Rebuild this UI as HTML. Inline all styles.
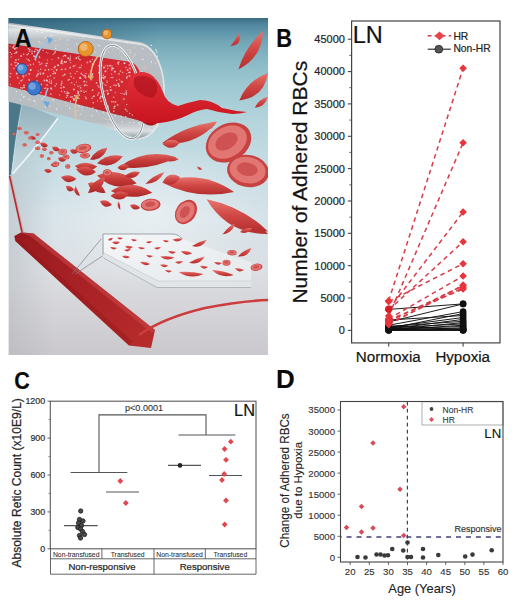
<!DOCTYPE html>
<html><head><meta charset="utf-8"><style>
html,body{margin:0;padding:0;background:#fff;}
body{width:520px;height:602px;overflow:hidden;}
svg{display:block;}
.dp text{stroke-width:0.12px;}
text{font-family:"Liberation Sans", sans-serif;stroke:#2a2a2a;stroke-width:0.22px;}
</style></head><body>
<svg width="520" height="602" viewBox="0 0 520 602">
<rect width="520" height="602" fill="#fff"/>
<defs>
<linearGradient id="bgA" x1="0" y1="0" x2="0" y2="1">
<stop offset="0" stop-color="#3a6c82"/>
<stop offset="0.02" stop-color="#5088a0"/>
<stop offset="0.07" stop-color="#72a6b6"/>
<stop offset="0.13" stop-color="#8abac6"/>
<stop offset="0.2" stop-color="#9ec8d2"/>
<stop offset="0.3" stop-color="#b4d4dc"/>
<stop offset="0.45" stop-color="#c8dde4"/>
<stop offset="0.6" stop-color="#d6e2e8"/>
<stop offset="0.75" stop-color="#dcdfe3"/>
<stop offset="0.88" stop-color="#d4d3d7"/>
<stop offset="1" stop-color="#cac8cc"/>
</linearGradient>
<linearGradient id="leftV" x1="0" y1="0" x2="1" y2="0">
<stop offset="0" stop-color="#a4aab0" stop-opacity="0.35"/>
<stop offset="1" stop-color="#a4aab0" stop-opacity="0"/>
</linearGradient>
<radialGradient id="glowA" cx="0.5" cy="0.5" r="0.5">
<stop offset="0" stop-color="#ffffff" stop-opacity="0.45"/>
<stop offset="1" stop-color="#ffffff" stop-opacity="0"/>
</radialGradient>
<linearGradient id="tubeG" x1="0" y1="0" x2="0" y2="1">
<stop offset="0" stop-color="#96a0a8"/>
<stop offset="0.06" stop-color="#e2e5e8"/>
<stop offset="0.15" stop-color="#b8bec4"/>
<stop offset="0.85" stop-color="#b8bdc2"/>
<stop offset="0.93" stop-color="#dcdfe2"/>
<stop offset="1" stop-color="#88919a"/>
</linearGradient>
<linearGradient id="redT" x1="0" y1="0" x2="0" y2="1">
<stop offset="0" stop-color="#c0202a"/>
<stop offset="0.3" stop-color="#d82a34"/>
<stop offset="0.75" stop-color="#d0282f"/>
<stop offset="1" stop-color="#b0222a"/>
</linearGradient>
<linearGradient id="arrowG" x1="0" y1="0" x2="1" y2="1">
<stop offset="0" stop-color="#981a1e"/>
<stop offset="0.5" stop-color="#aa2226"/>
<stop offset="1" stop-color="#b82c2c"/>
</linearGradient>
<linearGradient id="cellG" x1="0" y1="0" x2="0" y2="1">
<stop offset="0" stop-color="#e6746e"/>
<stop offset="0.45" stop-color="#d24a46"/>
<stop offset="1" stop-color="#b42e2e"/>
</linearGradient>
<linearGradient id="fluidG" x1="0" y1="0" x2="0" y2="1">
<stop offset="0" stop-color="#e4303a"/>
<stop offset="1" stop-color="#c8141f"/>
</linearGradient>
<linearGradient id="plateG" x1="0" y1="0" x2="1" y2="1">
<stop offset="0" stop-color="#f4f6f8"/>
<stop offset="1" stop-color="#e6e9ec"/>
</linearGradient>
<linearGradient id="funG" x1="0" y1="0" x2="0" y2="1">
<stop offset="0" stop-color="#90aebb"/>
<stop offset="0.5" stop-color="#b0c8d0"/>
<stop offset="1" stop-color="#c8d8de"/>
</linearGradient>
<linearGradient id="tealL" x1="0" y1="0" x2="1" y2="0">
<stop offset="0" stop-color="#28586e" stop-opacity="0.6"/>
<stop offset="1" stop-color="#28586e" stop-opacity="0"/>
</linearGradient>
<linearGradient id="cellD" x1="0" y1="0" x2="0" y2="1">
<stop offset="0" stop-color="#dc625e"/>
<stop offset="0.45" stop-color="#c83c3a"/>
<stop offset="1" stop-color="#aa2828"/>
</linearGradient>
<clipPath id="clipA"><rect x="8.5" y="18" width="259.5" height="337"/></clipPath>
</defs><g clip-path="url(#clipA)"><rect x="8" y="18" width="260" height="337" fill="url(#bgA)"/><rect x="9" y="150" width="45" height="205" fill="url(#leftV)"/><ellipse cx="150" cy="215" rx="120" ry="70" fill="url(#glowA)"/><path d="M9,99 L24,104 Q15,140 11.5,174 L9,176 Z" fill="#4a7888"/><path d="M22,103 L58,118 Q36,148 12.5,174 L11.5,173 Q15,140 22,103 Z" fill="url(#funG)"/><path d="M58,118 Q36,148 12.5,174" stroke="#f4f8fa" stroke-width="1.6" fill="none" opacity="0.9"/><path d="M22,103 Q15,140 11.5,174" stroke="#dfeaef" stroke-width="1" fill="none" opacity="0.6"/><path d="M10,176 L22.5,232" stroke="#c8b8b8" stroke-width="3.2"/><path d="M9.6,176 L22,232" stroke="#b42a2e" stroke-width="1.6"/><path d="M8,18 L160,18 L160,46 L8,24 Z" fill="url(#tealL)"/><path d="M8,22.5 L140,42 C157,45 165,72 164,95 C163,118 156,137 138,139 L99,124.5 L8,101.5 Z" fill="url(#tubeG)"/><path d="M8,25 L140,44" stroke="#f2f4f5" stroke-width="1.8" opacity="0.7"/><path d="M8,43.5 L128,61.5 Q139,63.5 141,77 L141,121 L8,86 Z" fill="url(#redT)"/><circle cx="43.3" cy="73.5" r="0.97" fill="#f8e0e4" opacity="0.85"/><circle cx="76.4" cy="82.0" r="0.61" fill="#f0d0b0" opacity="0.85"/><circle cx="127.2" cy="76.4" r="0.68" fill="#eec8d0" opacity="0.85"/><circle cx="110.4" cy="87.1" r="0.79" fill="#f0d0b0" opacity="0.85"/><circle cx="99.5" cy="66.1" r="0.95" fill="#eec8d0" opacity="0.85"/><circle cx="83.2" cy="90.9" r="0.66" fill="#f2b8c0" opacity="0.85"/><circle cx="144.0" cy="68.3" r="0.93" fill="#f2b8c0" opacity="0.85"/><circle cx="47.7" cy="76.6" r="0.89" fill="#e8a0a8" opacity="0.85"/><circle cx="139.0" cy="85.4" r="0.78" fill="#f0d0b0" opacity="0.85"/><circle cx="141.0" cy="110.6" r="0.61" fill="#f2b8c0" opacity="0.85"/><circle cx="79.3" cy="67.6" r="0.91" fill="#e8a0a8" opacity="0.85"/><circle cx="129.7" cy="85.0" r="0.83" fill="#e8a0a8" opacity="0.85"/><circle cx="84.8" cy="75.6" r="0.96" fill="#eec8d0" opacity="0.85"/><circle cx="105.5" cy="104.8" r="1.00" fill="#f8e0e4" opacity="0.85"/><circle cx="104.0" cy="67.5" r="0.99" fill="#f8e0e4" opacity="0.85"/><circle cx="136.7" cy="93.8" r="0.85" fill="#eec8d0" opacity="0.85"/><circle cx="148.3" cy="80.6" r="0.63" fill="#f2b8c0" opacity="0.85"/><circle cx="129.6" cy="113.6" r="0.74" fill="#f2b8c0" opacity="0.85"/><circle cx="19.3" cy="83.2" r="0.72" fill="#f2b8c0" opacity="0.85"/><circle cx="117.6" cy="104.9" r="0.84" fill="#f2b8c0" opacity="0.85"/><circle cx="116.6" cy="80.3" r="0.73" fill="#f0d0b0" opacity="0.85"/><circle cx="133.3" cy="114.0" r="0.69" fill="#f0d0b0" opacity="0.85"/><circle cx="15.0" cy="45.8" r="0.84" fill="#f2b8c0" opacity="0.85"/><circle cx="14.4" cy="53.4" r="0.72" fill="#e8a0a8" opacity="0.85"/><circle cx="46.9" cy="80.6" r="0.73" fill="#f8e0e4" opacity="0.85"/><circle cx="144.2" cy="112.3" r="0.75" fill="#e8a0a8" opacity="0.85"/><circle cx="131.8" cy="83.6" r="0.87" fill="#f0d0b0" opacity="0.85"/><circle cx="24.4" cy="87.6" r="0.71" fill="#f0d0b0" opacity="0.85"/><circle cx="98.8" cy="93.1" r="0.77" fill="#f8e0e4" opacity="0.85"/><circle cx="46.2" cy="63.6" r="0.60" fill="#f8e0e4" opacity="0.85"/><circle cx="68.1" cy="80.2" r="0.75" fill="#f2b8c0" opacity="0.85"/><circle cx="92.5" cy="64.1" r="0.79" fill="#f8e0e4" opacity="0.85"/><circle cx="105.1" cy="76.9" r="0.90" fill="#f8e0e4" opacity="0.85"/><circle cx="13.1" cy="47.6" r="0.99" fill="#f2b8c0" opacity="0.85"/><circle cx="45.2" cy="70.1" r="0.84" fill="#f0d0b0" opacity="0.85"/><circle cx="34.8" cy="56.5" r="0.94" fill="#f8e0e4" opacity="0.85"/><circle cx="47.0" cy="84.9" r="0.91" fill="#f2b8c0" opacity="0.85"/><circle cx="13.8" cy="68.5" r="0.72" fill="#eec8d0" opacity="0.85"/><circle cx="41.2" cy="84.3" r="0.73" fill="#eec8d0" opacity="0.85"/><circle cx="104.9" cy="91.2" r="0.64" fill="#f2b8c0" opacity="0.85"/><circle cx="55.1" cy="66.6" r="0.78" fill="#eec8d0" opacity="0.85"/><circle cx="129.8" cy="72.3" r="0.90" fill="#f8e0e4" opacity="0.85"/><circle cx="40.5" cy="74.0" r="0.69" fill="#f8e0e4" opacity="0.85"/><circle cx="26.9" cy="69.6" r="0.73" fill="#eec8d0" opacity="0.85"/><circle cx="127.1" cy="92.2" r="0.74" fill="#f8e0e4" opacity="0.85"/><circle cx="125.9" cy="67.4" r="0.74" fill="#f0d0b0" opacity="0.85"/><circle cx="28.2" cy="59.8" r="0.79" fill="#f8e0e4" opacity="0.85"/><circle cx="98.8" cy="72.7" r="0.76" fill="#f0d0b0" opacity="0.85"/><circle cx="138.9" cy="73.2" r="0.79" fill="#f2b8c0" opacity="0.85"/><circle cx="126.6" cy="94.4" r="0.77" fill="#f0d0b0" opacity="0.85"/><circle cx="143.0" cy="113.6" r="0.61" fill="#eec8d0" opacity="0.85"/><circle cx="73.9" cy="89.4" r="0.99" fill="#f0d0b0" opacity="0.85"/><circle cx="86.1" cy="98.4" r="0.94" fill="#f2b8c0" opacity="0.85"/><circle cx="145.9" cy="72.6" r="0.62" fill="#eec8d0" opacity="0.85"/><circle cx="136.5" cy="100.2" r="0.96" fill="#eec8d0" opacity="0.85"/><circle cx="136.0" cy="94.1" r="0.79" fill="#f2b8c0" opacity="0.85"/><circle cx="26.9" cy="68.5" r="0.87" fill="#eec8d0" opacity="0.85"/><circle cx="83.5" cy="75.7" r="0.65" fill="#f0d0b0" opacity="0.85"/><circle cx="27.6" cy="88.3" r="0.79" fill="#f0d0b0" opacity="0.85"/><circle cx="119.5" cy="79.6" r="0.65" fill="#eec8d0" opacity="0.85"/><circle cx="134.3" cy="70.5" r="0.92" fill="#eec8d0" opacity="0.85"/><circle cx="139.0" cy="106.4" r="0.80" fill="#f2b8c0" opacity="0.85"/><circle cx="89.9" cy="76.3" r="0.70" fill="#f8e0e4" opacity="0.85"/><circle cx="96.5" cy="83.2" r="0.79" fill="#f2b8c0" opacity="0.85"/><circle cx="118.7" cy="62.1" r="0.91" fill="#f2b8c0" opacity="0.85"/><circle cx="16.5" cy="47.7" r="0.99" fill="#e8a0a8" opacity="0.85"/><circle cx="129.6" cy="68.1" r="0.80" fill="#f0d0b0" opacity="0.85"/><circle cx="32.0" cy="51.2" r="0.86" fill="#e8a0a8" opacity="0.85"/><circle cx="92.1" cy="74.8" r="1.00" fill="#eec8d0" opacity="0.85"/><circle cx="70.0" cy="60.0" r="0.89" fill="#f2b8c0" opacity="0.85"/><circle cx="63.2" cy="56.7" r="0.62" fill="#eec8d0" opacity="0.85"/><circle cx="74.5" cy="84.8" r="0.75" fill="#f0d0b0" opacity="0.85"/><circle cx="122.2" cy="93.5" r="0.62" fill="#e8a0a8" opacity="0.85"/><circle cx="97.8" cy="95.0" r="0.77" fill="#f8e0e4" opacity="0.85"/><circle cx="107.2" cy="82.5" r="0.69" fill="#eec8d0" opacity="0.85"/><circle cx="47.8" cy="76.5" r="0.69" fill="#e8a0a8" opacity="0.85"/><circle cx="28.3" cy="48.8" r="0.75" fill="#f8e0e4" opacity="0.85"/><circle cx="135.7" cy="104.9" r="0.65" fill="#f8e0e4" opacity="0.85"/><circle cx="106.7" cy="105.6" r="0.92" fill="#f0d0b0" opacity="0.85"/><circle cx="103.5" cy="94.9" r="0.81" fill="#f0d0b0" opacity="0.85"/><circle cx="123.6" cy="98.5" r="0.66" fill="#e8a0a8" opacity="0.85"/><circle cx="118.4" cy="64.1" r="0.83" fill="#f2b8c0" opacity="0.85"/><circle cx="102.3" cy="77.5" r="0.74" fill="#f2b8c0" opacity="0.85"/><circle cx="129.3" cy="65.0" r="0.87" fill="#f2b8c0" opacity="0.85"/><circle cx="127.1" cy="111.1" r="0.72" fill="#f0d0b0" opacity="0.85"/><circle cx="22.4" cy="88.1" r="0.80" fill="#f0d0b0" opacity="0.85"/><circle cx="110.1" cy="65.8" r="0.97" fill="#f2b8c0" opacity="0.85"/><circle cx="18.6" cy="59.4" r="0.67" fill="#f0d0b0" opacity="0.85"/><circle cx="20.8" cy="87.8" r="0.78" fill="#eec8d0" opacity="0.85"/><circle cx="108.0" cy="106.1" r="0.75" fill="#f8e0e4" opacity="0.85"/><circle cx="65.5" cy="69.3" r="0.99" fill="#e8a0a8" opacity="0.85"/><circle cx="62.5" cy="63.6" r="0.94" fill="#e8a0a8" opacity="0.85"/><circle cx="145.4" cy="87.7" r="0.90" fill="#f0d0b0" opacity="0.85"/><circle cx="104.3" cy="84.7" r="0.66" fill="#e8a0a8" opacity="0.85"/><circle cx="66.1" cy="93.7" r="0.64" fill="#eec8d0" opacity="0.85"/><circle cx="114.7" cy="106.4" r="0.98" fill="#f0d0b0" opacity="0.85"/><circle cx="92.1" cy="98.3" r="0.71" fill="#eec8d0" opacity="0.85"/><circle cx="37.9" cy="74.2" r="0.97" fill="#f8e0e4" opacity="0.85"/><circle cx="129.2" cy="90.7" r="0.87" fill="#f8e0e4" opacity="0.85"/><circle cx="129.7" cy="93.7" r="0.83" fill="#f0d0b0" opacity="0.85"/><circle cx="47.4" cy="60.1" r="0.71" fill="#f2b8c0" opacity="0.85"/><circle cx="122.6" cy="72.6" r="0.74" fill="#f0d0b0" opacity="0.85"/><circle cx="55.1" cy="86.1" r="0.77" fill="#eec8d0" opacity="0.85"/><circle cx="107.7" cy="94.3" r="0.79" fill="#eec8d0" opacity="0.85"/><circle cx="126.8" cy="104.5" r="0.61" fill="#f0d0b0" opacity="0.85"/><circle cx="149.0" cy="70.6" r="0.91" fill="#e8a0a8" opacity="0.85"/><circle cx="133.5" cy="66.7" r="0.96" fill="#eec8d0" opacity="0.85"/><circle cx="100.8" cy="96.4" r="0.98" fill="#f2b8c0" opacity="0.85"/><circle cx="129.5" cy="75.9" r="0.91" fill="#eec8d0" opacity="0.85"/><circle cx="29.2" cy="73.9" r="0.96" fill="#f2b8c0" opacity="0.85"/><circle cx="45.7" cy="88.0" r="0.67" fill="#f8e0e4" opacity="0.85"/><circle cx="22.7" cy="79.9" r="0.64" fill="#f2b8c0" opacity="0.85"/><circle cx="126.8" cy="77.9" r="0.78" fill="#f8e0e4" opacity="0.85"/><circle cx="112.8" cy="77.5" r="0.73" fill="#f2b8c0" opacity="0.85"/><circle cx="71.1" cy="76.5" r="0.86" fill="#eec8d0" opacity="0.85"/><circle cx="113.9" cy="85.3" r="0.82" fill="#eec8d0" opacity="0.85"/><circle cx="26.7" cy="58.8" r="0.65" fill="#e8a0a8" opacity="0.85"/><circle cx="134.2" cy="110.6" r="0.81" fill="#f2b8c0" opacity="0.85"/><circle cx="108.1" cy="93.3" r="0.90" fill="#f8e0e4" opacity="0.85"/><circle cx="51.4" cy="81.0" r="0.64" fill="#f8e0e4" opacity="0.85"/><circle cx="142.2" cy="83.1" r="0.81" fill="#f0d0b0" opacity="0.85"/><circle cx="25.9" cy="67.9" r="0.62" fill="#f8e0e4" opacity="0.85"/><circle cx="51.2" cy="83.2" r="0.86" fill="#eec8d0" opacity="0.85"/><circle cx="112.2" cy="68.3" r="0.96" fill="#f8e0e4" opacity="0.85"/><circle cx="101.8" cy="65.2" r="0.66" fill="#f0d0b0" opacity="0.85"/><circle cx="56.4" cy="84.0" r="0.77" fill="#f0d0b0" opacity="0.85"/><circle cx="52.1" cy="59.6" r="0.72" fill="#e8a0a8" opacity="0.85"/><circle cx="34.7" cy="51.5" r="0.90" fill="#eec8d0" opacity="0.85"/><circle cx="86.0" cy="91.4" r="0.64" fill="#f8e0e4" opacity="0.85"/><circle cx="47.9" cy="53.0" r="0.62" fill="#eec8d0" opacity="0.85"/><circle cx="80.7" cy="67.4" r="0.74" fill="#f0d0b0" opacity="0.85"/><circle cx="56.6" cy="70.0" r="0.92" fill="#f0d0b0" opacity="0.85"/><circle cx="19.7" cy="66.8" r="0.66" fill="#f2b8c0" opacity="0.85"/><circle cx="92.6" cy="90.1" r="0.91" fill="#f0d0b0" opacity="0.85"/><circle cx="111.8" cy="69.9" r="0.83" fill="#eec8d0" opacity="0.85"/><circle cx="103.8" cy="78.5" r="0.84" fill="#eec8d0" opacity="0.85"/><circle cx="30.5" cy="64.8" r="0.82" fill="#eec8d0" opacity="0.85"/><circle cx="33.8" cy="56.1" r="0.75" fill="#f8e0e4" opacity="0.85"/><circle cx="51.0" cy="88.2" r="0.96" fill="#e8a0a8" opacity="0.85"/><circle cx="142.9" cy="85.6" r="0.96" fill="#f0d0b0" opacity="0.85"/><circle cx="53.3" cy="73.5" r="0.87" fill="#f0d0b0" opacity="0.85"/><circle cx="51.9" cy="89.2" r="0.61" fill="#e8a0a8" opacity="0.85"/><circle cx="36.7" cy="76.0" r="0.91" fill="#f2b8c0" opacity="0.85"/><circle cx="102.7" cy="83.1" r="0.85" fill="#f0d0b0" opacity="0.85"/><circle cx="37.8" cy="82.6" r="0.61" fill="#eec8d0" opacity="0.85"/><circle cx="80.1" cy="85.7" r="0.64" fill="#e8a0a8" opacity="0.85"/><circle cx="49.7" cy="79.8" r="0.65" fill="#eec8d0" opacity="0.85"/><circle cx="120.9" cy="93.3" r="0.61" fill="#f2b8c0" opacity="0.85"/><circle cx="96.6" cy="82.6" r="0.82" fill="#e8a0a8" opacity="0.85"/><circle cx="140.2" cy="82.0" r="0.88" fill="#f8e0e4" opacity="0.85"/><circle cx="28.8" cy="83.8" r="0.91" fill="#f0d0b0" opacity="0.85"/><circle cx="14.8" cy="48.7" r="1.00" fill="#f8e0e4" opacity="0.85"/><circle cx="38.7" cy="52.0" r="0.77" fill="#eec8d0" opacity="0.85"/><circle cx="116.0" cy="85.4" r="0.91" fill="#f2b8c0" opacity="0.85"/><circle cx="67.2" cy="92.0" r="0.76" fill="#eec8d0" opacity="0.85"/><circle cx="76.3" cy="58.4" r="0.68" fill="#e8a0a8" opacity="0.85"/><circle cx="78.5" cy="56.7" r="0.90" fill="#e8a0a8" opacity="0.85"/><circle cx="66.2" cy="61.8" r="0.89" fill="#f2b8c0" opacity="0.85"/><circle cx="61.4" cy="69.5" r="0.74" fill="#f0d0b0" opacity="0.85"/><circle cx="66.3" cy="97.4" r="0.70" fill="#eec8d0" opacity="0.85"/><circle cx="61.7" cy="91.2" r="0.68" fill="#f0d0b0" opacity="0.85"/><circle cx="39.3" cy="56.7" r="0.80" fill="#e8a0a8" opacity="0.85"/><circle cx="99.1" cy="65.5" r="0.67" fill="#f0d0b0" opacity="0.85"/><circle cx="78.6" cy="58.4" r="0.76" fill="#f2b8c0" opacity="0.85"/><circle cx="54.5" cy="53.2" r="0.70" fill="#f2b8c0" opacity="0.85"/><circle cx="15.5" cy="65.8" r="0.70" fill="#eec8d0" opacity="0.85"/><circle cx="64.5" cy="61.9" r="0.85" fill="#f8e0e4" opacity="0.85"/><circle cx="58.5" cy="57.9" r="0.92" fill="#f2b8c0" opacity="0.85"/><circle cx="50.7" cy="94.2" r="0.92" fill="#e8a0a8" opacity="0.85"/><circle cx="144.6" cy="91.3" r="0.71" fill="#f0d0b0" opacity="0.85"/><circle cx="124.1" cy="94.2" r="0.73" fill="#f8e0e4" opacity="0.85"/><circle cx="17.9" cy="63.9" r="0.84" fill="#f2b8c0" opacity="0.85"/><circle cx="10.5" cy="46.0" r="0.61" fill="#f2b8c0" opacity="0.85"/><circle cx="80.4" cy="78.2" r="0.86" fill="#eec8d0" opacity="0.85"/><circle cx="136.0" cy="75.0" r="0.74" fill="#e8a0a8" opacity="0.85"/><circle cx="77.0" cy="71.5" r="0.75" fill="#f2b8c0" opacity="0.85"/><circle cx="115.2" cy="92.5" r="0.64" fill="#e8a0a8" opacity="0.85"/><circle cx="51.1" cy="88.6" r="0.80" fill="#f2b8c0" opacity="0.85"/><circle cx="86.6" cy="82.0" r="0.67" fill="#e8a0a8" opacity="0.85"/><circle cx="113.6" cy="97.2" r="0.74" fill="#f0d0b0" opacity="0.85"/><circle cx="35.7" cy="83.0" r="0.69" fill="#e8a0a8" opacity="0.85"/><circle cx="119.1" cy="85.9" r="0.93" fill="#f8e0e4" opacity="0.85"/><circle cx="81.0" cy="90.9" r="0.98" fill="#e8a0a8" opacity="0.85"/><circle cx="16.0" cy="52.7" r="0.93" fill="#f2b8c0" opacity="0.85"/><circle cx="22.9" cy="75.5" r="0.73" fill="#f2b8c0" opacity="0.85"/><circle cx="94.1" cy="96.1" r="0.95" fill="#f2b8c0" opacity="0.85"/><circle cx="132.1" cy="86.9" r="1.00" fill="#f8e0e4" opacity="0.85"/><circle cx="10.2" cy="52.6" r="0.74" fill="#f2b8c0" opacity="0.85"/><circle cx="53.6" cy="71.5" r="0.70" fill="#eec8d0" opacity="0.85"/><circle cx="16.8" cy="52.0" r="0.83" fill="#eec8d0" opacity="0.85"/><circle cx="11.6" cy="54.3" r="0.69" fill="#eec8d0" opacity="0.85"/><circle cx="88.7" cy="76.9" r="0.73" fill="#f0d0b0" opacity="0.85"/><circle cx="133.6" cy="104.0" r="0.67" fill="#e8a0a8" opacity="0.85"/><circle cx="21.1" cy="80.7" r="0.84" fill="#f2b8c0" opacity="0.85"/><circle cx="130.2" cy="69.0" r="0.63" fill="#f8e0e4" opacity="0.85"/><circle cx="75.1" cy="65.3" r="0.64" fill="#f0d0b0" opacity="0.85"/><circle cx="78.0" cy="86.3" r="0.76" fill="#f8e0e4" opacity="0.85"/><circle cx="102.6" cy="96.9" r="0.93" fill="#f8e0e4" opacity="0.85"/><circle cx="93.2" cy="96.5" r="0.65" fill="#eec8d0" opacity="0.85"/><circle cx="11.1" cy="57.0" r="0.74" fill="#f2b8c0" opacity="0.85"/><circle cx="36.9" cy="81.2" r="0.87" fill="#f0d0b0" opacity="0.85"/><circle cx="61.1" cy="87.9" r="0.84" fill="#f2b8c0" opacity="0.85"/><circle cx="40.0" cy="64.5" r="0.73" fill="#f2b8c0" opacity="0.85"/><circle cx="70.3" cy="58.1" r="0.73" fill="#eec8d0" opacity="0.85"/><circle cx="114.9" cy="71.6" r="0.95" fill="#eec8d0" opacity="0.85"/><circle cx="148.1" cy="98.4" r="0.94" fill="#f0d0b0" opacity="0.85"/><circle cx="61.5" cy="61.4" r="0.98" fill="#f0d0b0" opacity="0.85"/><circle cx="77.8" cy="91.1" r="0.79" fill="#e8a0a8" opacity="0.85"/><circle cx="92.3" cy="59.4" r="0.67" fill="#f2b8c0" opacity="0.85"/><circle cx="23.4" cy="76.9" r="0.80" fill="#f8e0e4" opacity="0.85"/><circle cx="18.6" cy="65.5" r="0.90" fill="#eec8d0" opacity="0.85"/><circle cx="48.6" cy="69.7" r="0.79" fill="#f8e0e4" opacity="0.85"/><circle cx="37.5" cy="82.5" r="0.64" fill="#eec8d0" opacity="0.85"/><circle cx="51.9" cy="69.4" r="0.68" fill="#f2b8c0" opacity="0.85"/><circle cx="78.2" cy="92.9" r="0.99" fill="#f8e0e4" opacity="0.85"/><circle cx="147.2" cy="111.9" r="0.98" fill="#f8e0e4" opacity="0.85"/><circle cx="70.4" cy="97.1" r="0.81" fill="#e8a0a8" opacity="0.85"/><circle cx="85.9" cy="73.6" r="0.71" fill="#f8e0e4" opacity="0.85"/><circle cx="74.8" cy="95.7" r="0.90" fill="#f8e0e4" opacity="0.85"/><circle cx="140.2" cy="92.0" r="0.65" fill="#f2b8c0" opacity="0.85"/><circle cx="84.3" cy="81.5" r="0.98" fill="#eec8d0" opacity="0.85"/><circle cx="10.3" cy="84.6" r="0.74" fill="#e8a0a8" opacity="0.85"/><circle cx="145.2" cy="85.0" r="0.61" fill="#f0d0b0" opacity="0.85"/><circle cx="35.9" cy="49.4" r="0.96" fill="#e8a0a8" opacity="0.85"/><circle cx="127.0" cy="93.6" r="0.78" fill="#f2b8c0" opacity="0.85"/><circle cx="46.6" cy="79.8" r="0.77" fill="#e8a0a8" opacity="0.85"/><circle cx="46.4" cy="52.4" r="0.61" fill="#e8a0a8" opacity="0.85"/><circle cx="149.4" cy="75.5" r="0.70" fill="#f0d0b0" opacity="0.85"/><circle cx="29.0" cy="79.6" r="0.80" fill="#e8a0a8" opacity="0.85"/><circle cx="126.3" cy="90.9" r="0.61" fill="#f8e0e4" opacity="0.85"/><circle cx="16.4" cy="65.6" r="0.96" fill="#f2b8c0" opacity="0.85"/><circle cx="136.9" cy="88.7" r="0.81" fill="#f0d0b0" opacity="0.85"/><circle cx="61.9" cy="81.3" r="0.67" fill="#f8e0e4" opacity="0.85"/><circle cx="105.7" cy="107.9" r="0.64" fill="#f0d0b0" opacity="0.85"/><circle cx="118.4" cy="83.9" r="0.92" fill="#f8e0e4" opacity="0.85"/><circle cx="73.4" cy="98.7" r="0.83" fill="#eec8d0" opacity="0.85"/><circle cx="29.6" cy="49.4" r="0.94" fill="#e8a0a8" opacity="0.85"/><circle cx="125.9" cy="109.7" r="0.71" fill="#f0d0b0" opacity="0.85"/><circle cx="54.3" cy="78.1" r="0.80" fill="#f2b8c0" opacity="0.85"/><circle cx="49.2" cy="82.0" r="0.64" fill="#f8e0e4" opacity="0.85"/><circle cx="103.6" cy="77.5" r="0.79" fill="#f0d0b0" opacity="0.85"/><circle cx="115.4" cy="102.1" r="0.68" fill="#e8a0a8" opacity="0.85"/><circle cx="138.9" cy="74.5" r="0.98" fill="#e8a0a8" opacity="0.85"/><circle cx="65.5" cy="55.7" r="0.98" fill="#eec8d0" opacity="0.85"/><circle cx="142.1" cy="82.0" r="0.82" fill="#e8a0a8" opacity="0.85"/><circle cx="15.0" cy="62.6" r="0.99" fill="#e8a0a8" opacity="0.85"/><circle cx="21.1" cy="56.0" r="0.89" fill="#eec8d0" opacity="0.85"/><circle cx="107.7" cy="65.8" r="0.85" fill="#f2b8c0" opacity="0.85"/><circle cx="124.5" cy="63.2" r="0.99" fill="#f8e0e4" opacity="0.85"/><circle cx="106.9" cy="81.0" r="0.78" fill="#e8a0a8" opacity="0.85"/><circle cx="50.5" cy="75.7" r="0.69" fill="#eec8d0" opacity="0.85"/><circle cx="144.1" cy="73.5" r="0.88" fill="#eec8d0" opacity="0.85"/><circle cx="75.4" cy="73.4" r="0.66" fill="#f2b8c0" opacity="0.85"/><circle cx="17.6" cy="77.2" r="0.72" fill="#eec8d0" opacity="0.85"/><circle cx="100.8" cy="65.4" r="0.62" fill="#eec8d0" opacity="0.85"/><circle cx="144.5" cy="93.7" r="0.91" fill="#e8a0a8" opacity="0.85"/><circle cx="70.7" cy="62.6" r="0.71" fill="#f2b8c0" opacity="0.85"/><circle cx="28.4" cy="53.7" r="0.75" fill="#eec8d0" opacity="0.85"/><circle cx="141.3" cy="96.6" r="0.60" fill="#eec8d0" opacity="0.85"/><circle cx="61.9" cy="59.3" r="0.70" fill="#e8a0a8" opacity="0.85"/><circle cx="59.6" cy="95.0" r="0.64" fill="#e8a0a8" opacity="0.85"/><circle cx="128.6" cy="87.3" r="0.81" fill="#f8e0e4" opacity="0.85"/><circle cx="129.6" cy="86.0" r="0.79" fill="#e8a0a8" opacity="0.85"/><circle cx="85.3" cy="77.3" r="0.78" fill="#f0d0b0" opacity="0.85"/><circle cx="63.7" cy="87.3" r="0.97" fill="#f8e0e4" opacity="0.85"/><circle cx="128.8" cy="72.6" r="0.73" fill="#eec8d0" opacity="0.85"/><circle cx="127.6" cy="70.0" r="0.99" fill="#f0d0b0" opacity="0.85"/><circle cx="67.3" cy="93.3" r="0.83" fill="#f2b8c0" opacity="0.85"/><circle cx="32.1" cy="53.4" r="1.00" fill="#e8a0a8" opacity="0.85"/><circle cx="106.0" cy="85.4" r="0.64" fill="#f8e0e4" opacity="0.85"/><circle cx="85.7" cy="77.4" r="0.84" fill="#eec8d0" opacity="0.85"/><circle cx="40.6" cy="69.2" r="0.75" fill="#f0d0b0" opacity="0.85"/><circle cx="54.5" cy="67.6" r="0.91" fill="#f0d0b0" opacity="0.85"/><circle cx="111.2" cy="77.6" r="0.71" fill="#f8e0e4" opacity="0.85"/><circle cx="146.7" cy="80.4" r="0.84" fill="#f2b8c0" opacity="0.85"/><circle cx="41.0" cy="92.5" r="0.71" fill="#eec8d0" opacity="0.85"/><circle cx="145.4" cy="89.6" r="0.73" fill="#e8a0a8" opacity="0.85"/><circle cx="120.4" cy="71.0" r="0.81" fill="#f0d0b0" opacity="0.85"/><circle cx="71.8" cy="82.7" r="0.77" fill="#f2b8c0" opacity="0.85"/><circle cx="87.0" cy="85.6" r="0.62" fill="#f8e0e4" opacity="0.85"/><circle cx="129.6" cy="83.1" r="0.75" fill="#f2b8c0" opacity="0.85"/><circle cx="40.1" cy="73.1" r="0.77" fill="#f2b8c0" opacity="0.85"/><circle cx="131.4" cy="100.0" r="0.60" fill="#f8e0e4" opacity="0.85"/><circle cx="62.1" cy="69.6" r="0.75" fill="#e8a0a8" opacity="0.85"/><circle cx="101.2" cy="101.2" r="0.80" fill="#f0d0b0" opacity="0.85"/><circle cx="55.3" cy="51.9" r="0.85" fill="#f2b8c0" opacity="0.85"/><circle cx="29.5" cy="51.2" r="0.77" fill="#f8e0e4" opacity="0.85"/><circle cx="37.6" cy="50.3" r="0.81" fill="#f8e0e4" opacity="0.85"/><circle cx="113.2" cy="101.7" r="0.78" fill="#eec8d0" opacity="0.85"/><circle cx="105.5" cy="65.7" r="0.69" fill="#e8a0a8" opacity="0.85"/><circle cx="29.4" cy="60.7" r="0.68" fill="#f0d0b0" opacity="0.85"/><circle cx="125.3" cy="93.0" r="0.77" fill="#f2b8c0" opacity="0.85"/><circle cx="121.4" cy="81.5" r="0.93" fill="#e8a0a8" opacity="0.85"/><circle cx="35.7" cy="60.5" r="0.68" fill="#e8a0a8" opacity="0.85"/><circle cx="99.0" cy="86.9" r="0.77" fill="#f8e0e4" opacity="0.85"/><circle cx="23.6" cy="87.6" r="0.63" fill="#f2b8c0" opacity="0.85"/><circle cx="132.8" cy="102.0" r="0.63" fill="#f8e0e4" opacity="0.85"/><circle cx="11.3" cy="64.4" r="0.85" fill="#e8a0a8" opacity="0.85"/><circle cx="23.2" cy="74.3" r="0.95" fill="#e8a0a8" opacity="0.85"/><circle cx="41.6" cy="63.6" r="0.98" fill="#e8a0a8" opacity="0.85"/><circle cx="17.3" cy="67.1" r="0.81" fill="#f0d0b0" opacity="0.85"/><circle cx="90.3" cy="61.5" r="0.93" fill="#eec8d0" opacity="0.85"/><circle cx="125.4" cy="109.0" r="0.71" fill="#e8a0a8" opacity="0.85"/><circle cx="147.5" cy="100.9" r="0.69" fill="#f0d0b0" opacity="0.85"/><circle cx="90.2" cy="73.6" r="0.65" fill="#f0d0b0" opacity="0.85"/><circle cx="84.4" cy="85.5" r="0.73" fill="#f8e0e4" opacity="0.85"/><circle cx="130.4" cy="93.3" r="0.68" fill="#f0d0b0" opacity="0.85"/><circle cx="18.4" cy="63.9" r="0.85" fill="#f8e0e4" opacity="0.85"/><circle cx="79.1" cy="95.1" r="0.93" fill="#eec8d0" opacity="0.85"/><circle cx="141.3" cy="71.7" r="0.76" fill="#f0d0b0" opacity="0.85"/><circle cx="39.7" cy="57.4" r="0.73" fill="#f2b8c0" opacity="0.85"/><circle cx="44.6" cy="88.4" r="0.69" fill="#f2b8c0" opacity="0.85"/><circle cx="61.4" cy="62.9" r="0.70" fill="#f8e0e4" opacity="0.85"/><circle cx="46.9" cy="80.8" r="0.89" fill="#f8e0e4" opacity="0.85"/><circle cx="39.1" cy="62.3" r="0.83" fill="#eec8d0" opacity="0.85"/><circle cx="44.4" cy="80.5" r="0.92" fill="#eec8d0" opacity="0.85"/><circle cx="61.1" cy="63.2" r="0.76" fill="#f0d0b0" opacity="0.85"/><circle cx="85.5" cy="84.7" r="0.78" fill="#f8e0e4" opacity="0.85"/><circle cx="17.8" cy="78.3" r="0.80" fill="#e8a0a8" opacity="0.85"/><circle cx="91.1" cy="70.3" r="0.87" fill="#e8a0a8" opacity="0.85"/><circle cx="41.1" cy="84.9" r="0.74" fill="#e8a0a8" opacity="0.85"/><circle cx="149.4" cy="92.0" r="0.65" fill="#eec8d0" opacity="0.85"/><circle cx="68.7" cy="93.2" r="0.83" fill="#eec8d0" opacity="0.85"/><circle cx="25.1" cy="69.1" r="0.79" fill="#f8e0e4" opacity="0.85"/><circle cx="85.5" cy="97.1" r="0.75" fill="#e8a0a8" opacity="0.85"/><circle cx="15.9" cy="59.9" r="0.85" fill="#eec8d0" opacity="0.85"/><circle cx="108.3" cy="107.7" r="0.72" fill="#f0d0b0" opacity="0.85"/><circle cx="134.9" cy="109.5" r="0.73" fill="#f0d0b0" opacity="0.85"/><circle cx="67.4" cy="95.6" r="0.97" fill="#f8e0e4" opacity="0.85"/><circle cx="69.2" cy="79.5" r="0.77" fill="#f8e0e4" opacity="0.85"/><circle cx="61.8" cy="61.1" r="0.88" fill="#f8e0e4" opacity="0.85"/><circle cx="88.8" cy="75.3" r="0.73" fill="#f2b8c0" opacity="0.85"/><circle cx="32.7" cy="87.1" r="0.67" fill="#e8a0a8" opacity="0.85"/><circle cx="65.2" cy="62.3" r="0.82" fill="#e8a0a8" opacity="0.85"/><circle cx="61.2" cy="85.2" r="0.79" fill="#f0d0b0" opacity="0.85"/><circle cx="38.2" cy="70.8" r="0.65" fill="#eec8d0" opacity="0.85"/><circle cx="87.3" cy="62.5" r="0.95" fill="#e8a0a8" opacity="0.85"/><circle cx="82.2" cy="74.6" r="0.79" fill="#f2b8c0" opacity="0.85"/><circle cx="105.8" cy="71.1" r="0.65" fill="#f8e0e4" opacity="0.85"/><circle cx="142.7" cy="90.3" r="0.66" fill="#e8a0a8" opacity="0.85"/><circle cx="61.7" cy="83.4" r="0.83" fill="#f8e0e4" opacity="0.85"/><circle cx="81.5" cy="65.3" r="0.70" fill="#eec8d0" opacity="0.85"/><circle cx="46.2" cy="65.6" r="0.96" fill="#f8e0e4" opacity="0.85"/><circle cx="23.8" cy="76.2" r="0.69" fill="#f2b8c0" opacity="0.85"/><circle cx="74.0" cy="99.5" r="0.93" fill="#f8e0e4" opacity="0.85"/><circle cx="29.9" cy="49.6" r="0.71" fill="#e8a0a8" opacity="0.85"/><circle cx="81.2" cy="73.3" r="0.90" fill="#e8a0a8" opacity="0.85"/><circle cx="80.6" cy="87.8" r="0.99" fill="#e8a0a8" opacity="0.85"/><circle cx="70.2" cy="67.7" r="0.83" fill="#f8e0e4" opacity="0.85"/><circle cx="64.3" cy="55.4" r="0.77" fill="#eec8d0" opacity="0.85"/><circle cx="10.2" cy="76.8" r="0.80" fill="#eec8d0" opacity="0.85"/><circle cx="143.4" cy="109.6" r="0.70" fill="#f8e0e4" opacity="0.85"/><circle cx="98.0" cy="85.6" r="0.68" fill="#f8e0e4" opacity="0.85"/><circle cx="32.2" cy="89.8" r="0.79" fill="#f2b8c0" opacity="0.85"/><circle cx="113.4" cy="68.5" r="0.73" fill="#f0d0b0" opacity="0.85"/><circle cx="124.1" cy="99.3" r="0.65" fill="#f8e0e4" opacity="0.85"/><circle cx="97.5" cy="100.8" r="0.64" fill="#eec8d0" opacity="0.85"/><circle cx="107.7" cy="90.8" r="0.76" fill="#f0d0b0" opacity="0.85"/><circle cx="73.8" cy="100.4" r="0.78" fill="#f0d0b0" opacity="0.85"/><circle cx="34.7" cy="83.8" r="0.71" fill="#f2b8c0" opacity="0.85"/><circle cx="107.8" cy="68.6" r="0.73" fill="#f2b8c0" opacity="0.85"/><circle cx="111.7" cy="101.7" r="0.64" fill="#f8e0e4" opacity="0.85"/><circle cx="122.3" cy="81.9" r="0.78" fill="#f0d0b0" opacity="0.85"/><circle cx="103.4" cy="75.3" r="0.78" fill="#eec8d0" opacity="0.85"/><circle cx="43.1" cy="50.2" r="0.69" fill="#eec8d0" opacity="0.85"/><circle cx="68.2" cy="58.3" r="0.99" fill="#f8e0e4" opacity="0.85"/><circle cx="26.1" cy="75.1" r="0.72" fill="#eec8d0" opacity="0.85"/><circle cx="13.5" cy="46.3" r="0.69" fill="#f8e0e4" opacity="0.85"/><circle cx="73.6" cy="78.2" r="0.75" fill="#f0d0b0" opacity="0.85"/><circle cx="135.7" cy="75.4" r="0.77" fill="#f0d0b0" opacity="0.85"/><circle cx="53.2" cy="54.3" r="0.80" fill="#e8a0a8" opacity="0.85"/><circle cx="24.0" cy="85.5" r="0.98" fill="#f0d0b0" opacity="0.85"/><circle cx="30.7" cy="69.9" r="1.00" fill="#f8e0e4" opacity="0.85"/><circle cx="33.5" cy="64.0" r="0.65" fill="#f8e0e4" opacity="0.85"/><circle cx="79.9" cy="78.0" r="0.90" fill="#eec8d0" opacity="0.85"/><circle cx="117.8" cy="62.9" r="0.79" fill="#f2b8c0" opacity="0.85"/><circle cx="10.7" cy="73.6" r="0.96" fill="#e8a0a8" opacity="0.85"/><circle cx="16.7" cy="73.5" r="0.93" fill="#f8e0e4" opacity="0.85"/><circle cx="78.8" cy="91.6" r="0.72" fill="#eec8d0" opacity="0.85"/><circle cx="88.8" cy="76.3" r="0.65" fill="#f2b8c0" opacity="0.85"/><circle cx="105.3" cy="71.4" r="0.90" fill="#eec8d0" opacity="0.85"/><circle cx="84.3" cy="92.4" r="0.66" fill="#f0d0b0" opacity="0.85"/><circle cx="33.0" cy="89.2" r="0.80" fill="#f8e0e4" opacity="0.85"/><circle cx="144.7" cy="66.5" r="0.74" fill="#f2b8c0" opacity="0.85"/><circle cx="80.0" cy="59.8" r="0.82" fill="#f8e0e4" opacity="0.85"/><circle cx="64.7" cy="74.4" r="0.98" fill="#f0d0b0" opacity="0.85"/><circle cx="55.2" cy="73.2" r="0.91" fill="#f8e0e4" opacity="0.85"/><circle cx="114.7" cy="71.5" r="0.86" fill="#f2b8c0" opacity="0.85"/><circle cx="114.1" cy="108.2" r="0.90" fill="#e8a0a8" opacity="0.85"/><circle cx="110.8" cy="90.0" r="1.00" fill="#eec8d0" opacity="0.85"/><circle cx="16.8" cy="62.3" r="0.67" fill="#e8a0a8" opacity="0.85"/><circle cx="23.7" cy="54.3" r="0.78" fill="#f0d0b0" opacity="0.85"/><circle cx="70.4" cy="73.5" r="0.74" fill="#f0d0b0" opacity="0.85"/><circle cx="70.4" cy="56.1" r="0.75" fill="#e8a0a8" opacity="0.85"/><circle cx="111.6" cy="74.2" r="0.66" fill="#eec8d0" opacity="0.85"/><circle cx="133.1" cy="103.1" r="0.86" fill="#f2b8c0" opacity="0.85"/><circle cx="111.9" cy="66.0" r="0.79" fill="#e8a0a8" opacity="0.85"/><circle cx="63.0" cy="75.7" r="0.85" fill="#e8a0a8" opacity="0.85"/><circle cx="76.4" cy="57.9" r="0.89" fill="#f0d0b0" opacity="0.85"/><circle cx="138.1" cy="75.0" r="0.99" fill="#f2b8c0" opacity="0.85"/><circle cx="29.3" cy="80.5" r="0.65" fill="#f2b8c0" opacity="0.85"/><circle cx="93.3" cy="102.8" r="0.82" fill="#f8e0e4" opacity="0.85"/><circle cx="28.0" cy="65.3" r="0.66" fill="#eec8d0" opacity="0.85"/><circle cx="106.7" cy="90.5" r="0.73" fill="#e8a0a8" opacity="0.85"/><circle cx="72.0" cy="96.9" r="0.82" fill="#f8e0e4" opacity="0.85"/><circle cx="92.7" cy="74.1" r="0.75" fill="#f0d0b0" opacity="0.85"/><circle cx="146.6" cy="81.0" r="0.68" fill="#f2b8c0" opacity="0.85"/><circle cx="64.5" cy="91.8" r="0.69" fill="#f8e0e4" opacity="0.85"/><circle cx="136.2" cy="81.7" r="0.91" fill="#f8e0e4" opacity="0.85"/><circle cx="126.6" cy="73.7" r="0.60" fill="#e8a0a8" opacity="0.85"/><circle cx="100.2" cy="98.2" r="0.97" fill="#eec8d0" opacity="0.85"/><circle cx="115.4" cy="101.8" r="0.92" fill="#f2b8c0" opacity="0.85"/><circle cx="58.1" cy="65.3" r="0.99" fill="#f8e0e4" opacity="0.85"/><circle cx="136.7" cy="111.4" r="0.91" fill="#f0d0b0" opacity="0.85"/><circle cx="73.6" cy="66.3" r="0.96" fill="#f0d0b0" opacity="0.85"/><circle cx="47.2" cy="63.2" r="0.68" fill="#f0d0b0" opacity="0.85"/><circle cx="139.2" cy="81.2" r="0.64" fill="#f2b8c0" opacity="0.85"/><circle cx="135.8" cy="85.0" r="0.92" fill="#f8e0e4" opacity="0.85"/><circle cx="119.0" cy="73.8" r="0.84" fill="#f2b8c0" opacity="0.85"/><circle cx="27.1" cy="54.7" r="0.74" fill="#f8e0e4" opacity="0.85"/><circle cx="37.1" cy="31.5" r="0.7" fill="#ffffff" opacity="0.8"/><circle cx="101.9" cy="54.4" r="0.7" fill="#ffffff" opacity="0.8"/><circle cx="15.0" cy="38.5" r="0.7" fill="#edd8b4" opacity="0.8"/><circle cx="83.4" cy="38.5" r="0.7" fill="#f2cfa8" opacity="0.8"/><circle cx="53.2" cy="99.4" r="0.7" fill="#f2cfa8" opacity="0.8"/><circle cx="67.5" cy="40.0" r="0.7" fill="#f6efe6" opacity="0.8"/><circle cx="150.2" cy="55.1" r="0.7" fill="#f2cfa8" opacity="0.8"/><circle cx="13.5" cy="31.6" r="0.7" fill="#edd8b4" opacity="0.8"/><circle cx="157.2" cy="62.1" r="0.7" fill="#edd8b4" opacity="0.8"/><circle cx="121.1" cy="116.1" r="0.7" fill="#ffffff" opacity="0.8"/><circle cx="92.0" cy="115.9" r="0.7" fill="#f6efe6" opacity="0.8"/><circle cx="157.0" cy="52.3" r="0.7" fill="#f6efe6" opacity="0.8"/><circle cx="106.8" cy="113.3" r="0.7" fill="#f2cfa8" opacity="0.8"/><circle cx="129.8" cy="122.3" r="0.7" fill="#f6efe6" opacity="0.8"/><circle cx="28.1" cy="99.6" r="0.7" fill="#edd8b4" opacity="0.8"/><circle cx="134.9" cy="54.8" r="0.7" fill="#f6efe6" opacity="0.8"/><circle cx="130.3" cy="49.9" r="0.7" fill="#f6efe6" opacity="0.8"/><circle cx="87.6" cy="107.4" r="0.7" fill="#f2cfa8" opacity="0.8"/><circle cx="122.1" cy="121.6" r="0.7" fill="#f6efe6" opacity="0.8"/><circle cx="139.3" cy="124.0" r="0.7" fill="#f6efe6" opacity="0.8"/><circle cx="44.1" cy="96.5" r="0.7" fill="#ffffff" opacity="0.8"/><circle cx="77.9" cy="110.7" r="0.7" fill="#edd8b4" opacity="0.8"/><circle cx="103.7" cy="112.1" r="0.7" fill="#ffffff" opacity="0.8"/><circle cx="23.5" cy="97.1" r="0.7" fill="#ffffff" opacity="0.8"/><circle cx="76.8" cy="44.0" r="0.7" fill="#ffffff" opacity="0.8"/><circle cx="55.2" cy="45.1" r="0.7" fill="#edd8b4" opacity="0.8"/><circle cx="55.8" cy="48.3" r="0.7" fill="#ffffff" opacity="0.8"/><circle cx="99.9" cy="55.4" r="0.7" fill="#f2cfa8" opacity="0.8"/><circle cx="133.5" cy="122.5" r="0.7" fill="#f6efe6" opacity="0.8"/><circle cx="100.9" cy="55.3" r="0.7" fill="#f2cfa8" opacity="0.8"/><circle cx="90.4" cy="108.5" r="0.7" fill="#f2cfa8" opacity="0.8"/><circle cx="91.2" cy="114.9" r="0.7" fill="#edd8b4" opacity="0.8"/><circle cx="137.4" cy="117.1" r="0.7" fill="#f6efe6" opacity="0.8"/><circle cx="132.3" cy="119.6" r="0.7" fill="#edd8b4" opacity="0.8"/><circle cx="42.0" cy="32.5" r="0.7" fill="#ffffff" opacity="0.8"/><circle cx="12.1" cy="29.7" r="0.7" fill="#edd8b4" opacity="0.8"/><circle cx="79.3" cy="106.4" r="0.7" fill="#edd8b4" opacity="0.8"/><circle cx="132.3" cy="115.0" r="0.7" fill="#f2cfa8" opacity="0.8"/><circle cx="56.6" cy="108.9" r="0.7" fill="#ffffff" opacity="0.8"/><circle cx="127.9" cy="49.9" r="0.7" fill="#f2cfa8" opacity="0.8"/><circle cx="58.0" cy="103.9" r="0.7" fill="#edd8b4" opacity="0.8"/><circle cx="21.5" cy="94.4" r="0.7" fill="#f6efe6" opacity="0.8"/><circle cx="63.4" cy="33.6" r="0.7" fill="#edd8b4" opacity="0.8"/><circle cx="60.3" cy="39.0" r="0.7" fill="#edd8b4" opacity="0.8"/><circle cx="82.5" cy="110.1" r="0.7" fill="#f6efe6" opacity="0.8"/><circle cx="123.2" cy="59.6" r="0.7" fill="#edd8b4" opacity="0.8"/><circle cx="96.5" cy="111.0" r="0.7" fill="#ffffff" opacity="0.8"/><circle cx="97.8" cy="45.2" r="0.7" fill="#f2cfa8" opacity="0.8"/><circle cx="20.6" cy="100.1" r="0.7" fill="#f6efe6" opacity="0.8"/><circle cx="156.3" cy="50.8" r="0.7" fill="#f6efe6" opacity="0.8"/><circle cx="13.2" cy="97.9" r="0.7" fill="#f2cfa8" opacity="0.8"/><circle cx="122.1" cy="57.1" r="0.7" fill="#edd8b4" opacity="0.8"/><circle cx="113.7" cy="111.2" r="0.7" fill="#ffffff" opacity="0.8"/><circle cx="151.4" cy="62.0" r="0.7" fill="#ffffff" opacity="0.8"/><circle cx="142.1" cy="128.0" r="0.7" fill="#ffffff" opacity="0.8"/><circle cx="155.4" cy="63.5" r="0.7" fill="#f2cfa8" opacity="0.8"/><circle cx="66.7" cy="44.3" r="0.7" fill="#edd8b4" opacity="0.8"/><circle cx="65.8" cy="102.8" r="0.7" fill="#edd8b4" opacity="0.8"/><circle cx="83.9" cy="45.9" r="0.7" fill="#f2cfa8" opacity="0.8"/><circle cx="157.0" cy="126.6" r="0.7" fill="#f2cfa8" opacity="0.8"/><circle cx="142.8" cy="59.2" r="0.7" fill="#ffffff" opacity="0.8"/><circle cx="158.6" cy="125.4" r="0.7" fill="#edd8b4" opacity="0.8"/><circle cx="67.9" cy="49.1" r="0.7" fill="#ffffff" opacity="0.8"/><circle cx="134.2" cy="47.7" r="0.7" fill="#f2cfa8" opacity="0.8"/><circle cx="107.5" cy="111.2" r="0.7" fill="#ffffff" opacity="0.8"/><circle cx="88.5" cy="54.0" r="0.7" fill="#ffffff" opacity="0.8"/><circle cx="119.6" cy="53.3" r="0.7" fill="#f2cfa8" opacity="0.8"/><circle cx="108.6" cy="52.2" r="0.7" fill="#edd8b4" opacity="0.8"/><circle cx="67.3" cy="105.6" r="0.7" fill="#f6efe6" opacity="0.8"/><circle cx="157.4" cy="56.2" r="0.7" fill="#f6efe6" opacity="0.8"/><circle cx="109.2" cy="119.8" r="0.7" fill="#f6efe6" opacity="0.8"/><circle cx="153.2" cy="126.0" r="0.7" fill="#ffffff" opacity="0.8"/><circle cx="58.2" cy="45.3" r="0.7" fill="#edd8b4" opacity="0.8"/><circle cx="50.1" cy="106.2" r="0.7" fill="#f2cfa8" opacity="0.8"/><circle cx="125.8" cy="116.5" r="0.7" fill="#edd8b4" opacity="0.8"/><circle cx="35.9" cy="102.5" r="0.7" fill="#f2cfa8" opacity="0.8"/><circle cx="24.3" cy="90.6" r="0.7" fill="#f2cfa8" opacity="0.8"/><circle cx="140.9" cy="121.9" r="0.7" fill="#f6efe6" opacity="0.8"/><circle cx="104.4" cy="53.3" r="0.7" fill="#ffffff" opacity="0.8"/><circle cx="106.1" cy="119.2" r="0.7" fill="#f2cfa8" opacity="0.8"/><circle cx="155.8" cy="49.6" r="0.7" fill="#f6efe6" opacity="0.8"/><circle cx="51.2" cy="35.5" r="0.7" fill="#ffffff" opacity="0.8"/><circle cx="53.1" cy="100.0" r="0.7" fill="#ffffff" opacity="0.8"/><circle cx="140.0" cy="44.1" r="0.7" fill="#f6efe6" opacity="0.8"/><circle cx="33.8" cy="100.7" r="0.7" fill="#f6efe6" opacity="0.8"/><circle cx="41.7" cy="43.4" r="0.7" fill="#edd8b4" opacity="0.8"/><circle cx="70.4" cy="101.2" r="0.7" fill="#f6efe6" opacity="0.8"/><circle cx="133.3" cy="57.0" r="0.7" fill="#f2cfa8" opacity="0.8"/><circle cx="127.5" cy="42.7" r="0.7" fill="#f6efe6" opacity="0.8"/><circle cx="95.0" cy="52.3" r="0.7" fill="#edd8b4" opacity="0.8"/><circle cx="39.1" cy="41.7" r="0.7" fill="#f6efe6" opacity="0.8"/><circle cx="142.9" cy="119.1" r="0.7" fill="#edd8b4" opacity="0.8"/><circle cx="45.4" cy="37.6" r="0.7" fill="#f6efe6" opacity="0.8"/><circle cx="142.8" cy="48.9" r="0.7" fill="#ffffff" opacity="0.8"/><circle cx="142.2" cy="119.0" r="0.7" fill="#f6efe6" opacity="0.8"/><circle cx="78.4" cy="105.6" r="0.7" fill="#f6efe6" opacity="0.8"/><circle cx="138.7" cy="122.9" r="0.7" fill="#ffffff" opacity="0.8"/><circle cx="115.2" cy="116.1" r="0.7" fill="#f6efe6" opacity="0.8"/><circle cx="55.6" cy="40.7" r="0.7" fill="#edd8b4" opacity="0.8"/><circle cx="29.9" cy="98.9" r="0.7" fill="#edd8b4" opacity="0.8"/><circle cx="45.5" cy="107.0" r="0.7" fill="#ffffff" opacity="0.8"/><circle cx="26.5" cy="42.8" r="0.7" fill="#f2cfa8" opacity="0.8"/><circle cx="16.0" cy="40.7" r="0.7" fill="#f2cfa8" opacity="0.8"/><circle cx="140.3" cy="44.1" r="0.7" fill="#f2cfa8" opacity="0.8"/><circle cx="16.4" cy="91.6" r="0.7" fill="#ffffff" opacity="0.8"/><circle cx="81.6" cy="107.0" r="0.7" fill="#f6efe6" opacity="0.8"/><circle cx="130.5" cy="52.5" r="0.7" fill="#f6efe6" opacity="0.8"/><circle cx="151.3" cy="45.4" r="0.7" fill="#ffffff" opacity="0.8"/><circle cx="29.7" cy="100.2" r="0.7" fill="#f2cfa8" opacity="0.8"/><circle cx="105.4" cy="118.6" r="0.7" fill="#f2cfa8" opacity="0.8"/><circle cx="19.4" cy="41.5" r="0.7" fill="#ffffff" opacity="0.8"/><circle cx="42.2" cy="98.5" r="0.7" fill="#ffffff" opacity="0.8"/><circle cx="92.9" cy="107.9" r="0.7" fill="#ffffff" opacity="0.8"/><circle cx="24.2" cy="96.5" r="0.7" fill="#f6efe6" opacity="0.8"/><circle cx="69.6" cy="108.2" r="0.7" fill="#ffffff" opacity="0.8"/><circle cx="113.0" cy="49.0" r="0.7" fill="#f2cfa8" opacity="0.8"/><circle cx="80.6" cy="114.2" r="0.7" fill="#edd8b4" opacity="0.8"/><circle cx="34.7" cy="101.0" r="0.7" fill="#f6efe6" opacity="0.8"/><circle cx="47.7" cy="101.3" r="0.7" fill="#f2cfa8" opacity="0.8"/><circle cx="99.6" cy="45.6" r="0.7" fill="#ffffff" opacity="0.8"/><ellipse cx="122" cy="92" rx="19" ry="48" transform="rotate(-14 122 92)" fill="none" stroke="#f2f4f6" stroke-width="2.6"/><ellipse cx="122" cy="92" rx="19" ry="48" transform="rotate(-14 122 92)" fill="none" stroke="#5f6a73" stroke-width="0.7"/><path d="M140,44 C157,47 165,72 164,95 C163,118 156,137 138,139" fill="none" stroke="#eef0f2" stroke-width="1.6" opacity="0.8"/><ellipse cx="147" cy="99" rx="15" ry="27" transform="rotate(-12 147 99)" fill="#a8141c"/><path d="M127,95 Q127,78 134,74 Q141,70 150,74 Q158,79 163,92 Q166,103 178,106 Q190,102 200,100 Q212,100 222,108 Q234,111 247,112 Q240,114 232,114 Q220,113 207,109 Q197,110 188,115 Q176,121 160,123 Q146,124 138,120 Q128,113 127,95 Z" fill="url(#fluidG)"/><path d="M134,78 Q146,72 156,82 Q160,92 152,98 Q140,96 134,86 Z" fill="#a5101a" opacity="0.6"/><circle cx="85.7" cy="49" r="7.5" fill="#e8962c"/><circle cx="83.8" cy="47.1" r="3.8" fill="#ffffff" opacity="0.3"/><circle cx="85.7" cy="49" r="7.5" fill="none" stroke="#b05a10" stroke-width="0.8"/><circle cx="107" cy="34" r="4.8" fill="#e8962c"/><circle cx="105.8" cy="32.8" r="2.4" fill="#ffffff" opacity="0.3"/><circle cx="107" cy="34" r="4.8" fill="none" stroke="#b05a10" stroke-width="0.8"/><circle cx="22" cy="69" r="5.5" fill="#4a8ad8"/><circle cx="20.6" cy="67.6" r="2.8" fill="#ffffff" opacity="0.3"/><circle cx="22" cy="69" r="5.5" fill="none" stroke="#1a4a98" stroke-width="0.8"/><circle cx="34" cy="88" r="7" fill="#3a78d0"/><circle cx="32.2" cy="86.2" r="3.5" fill="#ffffff" opacity="0.3"/><circle cx="34" cy="88" r="7" fill="none" stroke="#1a4a98" stroke-width="0.8"/><path d="M35,60 Q40,45 50,40" stroke="#9cc4e8" stroke-width="1.6" fill="none"/><path d="M47,37 L53,39 L49,44Z" fill="#6aa8e0"/><path d="M46,104 Q44,96 48,88" stroke="#9cc4e8" stroke-width="1.6" fill="none"/><path d="M43,101 L50,102 L47,108Z" fill="#6aa8e0"/><path d="M98,56 Q90,66 91,78" stroke="#e8c090" stroke-width="1.5" fill="none"/><path d="M88,76 L94,76 L91,81Z" fill="#e0a868"/><path d="M76,120 Q74,108 77,97" stroke="#e8c090" stroke-width="1.5" fill="none"/><path d="M74,99 L80,99 L77,94Z" fill="#e0a868"/><text transform="translate(14.49,46.9) scale(0.93,1)" font-weight="bold" font-size="25.5" fill="#0a0a0a" stroke="#0a0a0a" stroke-width="0.35">A</text><path d="M14.3,236 L21.3,232.3 L33.6,233.6 L155,330 L151,348 L129,345.5 L15.3,241 Z" fill="url(#arrowG)"/><path d="M21.3,232.7 L33.6,233.6 L155,330 L152,333 L30,236 Z" fill="#cc4a4c" opacity="0.5"/><path d="M15.3,241 L129,345.5 L133,342 L19,239 Z" fill="#8c1418" opacity="0.35"/><path d="M139,335 Q163,318 205,308 Q240,301 268,300" stroke="#cc3c3c" stroke-width="2.6" fill="none"/><path d="M103,234 L172,234 Q179,234 182,239 L251,262 L251,281 L158,281 L104,253 Z" fill="url(#plateG)"/><path d="M104,253 L158,281 L251,281 L251,287.5 L157,287.5 L103.5,258 Z" fill="#e2e5e8"/><path d="M103.5,258 L157,287.5 L251,287.5" stroke="#aeb2b8" stroke-width="0.9" fill="none"/><path d="M104,253 L158,281 L251,281" stroke="#c4c8cc" stroke-width="0.6" fill="none"/><path d="M101.3,238.8 L72,274.2 M102.8,255.8 L75,274.2" stroke="#7a8288" stroke-width="0.7"/><path d="M103,254.5 L103,234 L172,234 Q179,234 182,239" stroke="#8a9096" stroke-width="0.8" fill="none"/><path d="M230.5,46.0 Q243.0,44.9 239.0,33.0 Q235.6,40.1 230.5,46.0Z" fill="url(#cellG)" opacity="1"/><path d="M238.4,69.4 Q262.2,57.6 263.0,31.0 Q245.4,46.8 238.4,69.4Z" fill="url(#cellG)" opacity="1"/><path d="M239.3,100.4 Q264.1,97.7 268.0,73.0 Q247.6,80.3 239.3,100.4Z" fill="url(#cellG)" opacity="1"/><path d="M254.8,107.8 Q265.2,106.8 268.0,96.8 Q258.7,99.1 254.8,107.8Z" fill="url(#cellG)" opacity="1"/><path d="M200.0,129.7 Q211.7,132.6 216.5,121.5 Q206.4,121.9 200.0,129.7Z" fill="url(#cellG)" opacity="1"/><path d="M162.0,143.3 Q195.1,147.2 217.0,122.1 Q186.5,124.8 162.0,143.3Z" fill="url(#cellG)" opacity="1"/><path d="M162.0,182.4 Q196.3,200.2 234.0,192.0 Q200.5,168.5 162.0,182.4Z" fill="url(#cellG)" opacity="1"/><path d="M206.5,199.3 Q227.3,234.3 268.0,234.0 Q243.0,206.4 206.5,199.3Z" fill="url(#cellG)" opacity="1"/><path d="M160.0,157.0 Q168.8,164.9 179.0,159.0 Q169.8,154.9 160.0,157.0Z" fill="url(#cellG)" opacity="1"/><path d="M197.0,166.5 Q197.9,170.6 202.0,169.7 Q200.5,166.6 197.0,166.5Z" fill="url(#cellG)" opacity="1"/><path d="M223.5,234.0 Q232.3,232.5 234.0,223.7 Q227.3,227.3 223.5,234.0Z" fill="url(#cellG)" opacity="1"/><path d="M207.8,200.4 Q229.9,231.4 268.0,231.5 Q242.8,206.5 207.8,200.4Z" fill="url(#cellG)" opacity="1"/><path d="M119.4,166.7 Q149.5,171.5 176.5,157.2 Q145.6,147.8 119.4,166.7Z" fill="url(#cellD)" opacity="1"/><path d="M97.0,175.4 Q114.2,193.0 136.7,183.2 Q119.5,165.6 97.0,175.4Z" fill="url(#cellD)" opacity="1"/><path d="M110.8,191.0 Q131.1,201.8 152.3,192.7 Q132.1,177.8 110.8,191.0Z" fill="url(#cellD)" opacity="1"/><path d="M162.7,144.2 Q172.2,152.2 180.0,142.5 Q170.7,136.3 162.7,144.2Z" fill="url(#cellG)" opacity="1"/><path d="M97.0,163.3 Q112.6,169.8 122.9,156.3 Q108.0,152.4 97.0,163.3Z" fill="url(#cellD)" opacity="1"/><path d="M90.0,159.8 Q103.3,160.4 107.3,147.7 Q95.2,148.9 90.0,159.8Z" fill="url(#cellD)" opacity="1"/><path d="M145.4,184.0 Q158.5,183.7 164.4,172.0 Q153.2,175.3 145.4,184.0Z" fill="url(#cellG)" opacity="1"/><path d="M162.7,182.3 Q174.3,189.2 180.0,177.0 Q168.4,170.1 162.7,182.3Z" fill="url(#cellG)" opacity="1"/><path d="M90.0,182.3 Q92.8,194.9 105.6,192.7 Q101.7,181.6 90.0,182.3Z" fill="url(#cellD)" opacity="1"/><path d="M118.6,201.3 Q116.0,206.3 120.3,210.0 Q121.1,205.3 118.6,201.3Z" fill="url(#cellD)" opacity="1"/><path d="M74.8,166.0 Q85.8,175.4 97.3,166.5 Q86.2,159.4 74.8,166.0Z" fill="url(#cellD)" opacity="1"/><path d="M61.0,177.0 Q67.7,186.5 76.5,179.0 Q69.4,172.6 61.0,177.0Z" fill="url(#cellD)" opacity="1"/><path d="M75.6,186.0 Q71.5,193.8 80.0,196.0 Q78.1,190.9 75.6,186.0Z" fill="url(#cellD)" opacity="1"/><path d="M88.0,183.0 Q89.9,192.1 99.0,190.0 Q96.4,182.0 88.0,183.0Z" fill="url(#cellD)" opacity="1"/><path d="M76.0,169.0 Q84.5,180.4 96.0,172.0 Q87.2,162.6 76.0,169.0Z" fill="url(#cellD)" opacity="1"/><path d="M88.0,193.0 Q102.8,191.7 105.0,177.0 Q91.8,180.0 88.0,193.0Z" fill="url(#cellD)" opacity="1"/><path d="M110.5,196.0 Q120.7,203.9 129.0,194.0 Q119.0,188.0 110.5,196.0Z" fill="url(#cellD)" opacity="1"/><path d="M117.5,168.0 Q124.4,173.5 129.0,166.0 Q122.3,161.7 117.5,168.0Z" fill="url(#cellD)" opacity="1"/><path d="M50.5,165.0 Q56.4,169.8 59.8,163.0 Q54.3,160.0 50.5,165.0Z" fill="url(#cellD)" opacity="1"/><path d="M222.3,234.6 Q231.9,233.5 234.8,224.3 Q227.3,227.9 222.3,234.6Z" fill="url(#cellG)" opacity="1"/><path d="M192.0,246.0 Q201.8,248.8 206.7,239.8 Q198.7,241.4 192.0,246.0Z" fill="url(#cellG)" opacity="1"/><path d="M238.0,256.5 Q247.9,257.3 251.4,248.0 Q243.2,249.9 238.0,256.5Z" fill="url(#cellG)" opacity="1"/><path d="M189.0,262.7 Q199.2,265.7 204.7,256.5 Q196.3,258.2 189.0,262.7Z" fill="url(#cellG)" opacity="1"/><path d="M180.8,251.3 Q185.7,257.0 192.2,253.3 Q186.9,249.9 180.8,251.3Z" fill="url(#cellG)" opacity="1"/><path d="M178.7,272.0 Q190.6,279.9 203.6,274.0 Q191.3,271.1 178.7,272.0Z" fill="url(#cellG)" opacity="1"/><path d="M212.0,270.0 Q221.4,279.0 233.7,275.0 Q223.3,270.4 212.0,270.0Z" fill="url(#cellG)" opacity="1"/><path d="M160.0,256.5 Q166.9,262.0 174.5,257.5 Q167.4,254.9 160.0,256.5Z" fill="url(#cellG)" opacity="1"/><path d="M160.0,264.8 Q163.7,269.1 168.3,265.8 Q164.4,263.2 160.0,264.8Z" fill="url(#cellG)" opacity="1"/><path d="M172.5,239.8 Q178.1,243.5 182.8,238.8 Q177.4,237.1 172.5,239.8Z" fill="url(#cellG)" opacity="1"/><path d="M112.0,242.0 Q116.0,246.6 120.0,242.0 Q116.0,240.6 112.0,242.0Z" fill="url(#cellG)" opacity="1"/><path d="M125.0,246.0 Q128.4,251.1 133.0,247.0 Q129.2,245.1 125.0,246.0Z" fill="url(#cellG)" opacity="1"/><path d="M140.0,262.0 Q144.2,267.1 150.0,264.0 Q145.4,260.9 140.0,262.0Z" fill="url(#cellG)" opacity="1"/><path d="M122.0,256.0 Q125.6,260.1 130.0,257.0 Q126.2,254.5 122.0,256.0Z" fill="url(#cellG)" opacity="1"/><path d="M108.0,240.0 Q111.6,241.7 113.0,238.0 Q109.8,237.3 108.0,240.0Z" fill="url(#cellG)" opacity="1"/><path d="M240.0,232.0 Q247.7,235.0 252.0,228.0 Q245.1,227.4 240.0,232.0Z" fill="url(#cellG)" opacity="1"/><path d="M117.0,237.5 Q119.7,241.1 123.0,238.0 Q120.1,236.8 117.0,237.5Z" fill="url(#cellG)" opacity="1"/><path d="M131.0,239.0 Q133.4,242.9 137.0,240.0 Q134.2,238.5 131.0,239.0Z" fill="url(#cellG)" opacity="1"/><path d="M146.0,242.0 Q149.6,244.9 152.0,241.0 Q148.8,240.5 146.0,242.0Z" fill="url(#cellG)" opacity="1"/><path d="M110.0,247.0 Q113.0,251.3 117.0,248.0 Q113.6,246.5 110.0,247.0Z" fill="url(#cellG)" opacity="1"/><path d="M124.0,250.0 Q128.0,253.3 131.0,249.0 Q127.4,248.5 124.0,250.0Z" fill="url(#cellG)" opacity="1"/><path d="M138.0,247.0 Q141.0,251.1 145.0,248.0 Q141.6,246.7 138.0,247.0Z" fill="url(#cellG)" opacity="1"/><path d="M154.0,248.0 Q158.0,251.3 161.0,247.0 Q157.4,246.5 154.0,248.0Z" fill="url(#cellG)" opacity="1"/><path d="M163.0,240.0 Q165.4,243.9 169.0,241.0 Q166.2,239.5 163.0,240.0Z" fill="url(#cellG)" opacity="1"/><path d="M168.0,251.0 Q171.5,255.7 176.0,252.0 Q172.1,250.5 168.0,251.0Z" fill="url(#cellG)" opacity="1"/><path d="M146.0,255.0 Q149.0,259.3 153.0,256.0 Q149.6,254.5 146.0,255.0Z" fill="url(#cellG)" opacity="1"/><path d="M175.0,262.0 Q179.5,265.7 183.0,261.0 Q178.9,260.5 175.0,262.0Z" fill="url(#cellG)" opacity="1"/><path d="M200.0,266.0 Q203.5,270.9 208.0,267.0 Q204.1,265.3 200.0,266.0Z" fill="url(#cellG)" opacity="1"/><path d="M214.0,262.0 Q217.5,266.7 222.0,263.0 Q218.1,261.5 214.0,262.0Z" fill="url(#cellG)" opacity="1"/><path d="M235.0,268.0 Q238.4,273.7 244.0,270.0 Q239.8,267.9 235.0,268.0Z" fill="url(#cellG)" opacity="1"/><path d="M165.0,270.0 Q168.0,274.3 172.0,271.0 Q168.6,269.5 165.0,270.0Z" fill="url(#cellG)" opacity="1"/><path d="M40.0,143.0 Q42.2,149.4 48.0,146.0 Q45.2,141.2 40.0,143.0Z" fill="url(#cellD)" opacity="1"/><path d="M52.0,147.0 Q54.2,153.4 60.0,150.0 Q57.2,145.2 52.0,147.0Z" fill="url(#cellD)" opacity="1"/><path d="M30.0,136.0 Q31.1,141.3 36.0,139.0 Q34.3,134.9 30.0,136.0Z" fill="url(#cellD)" opacity="1"/><path d="M58.0,158.0 Q60.6,164.5 66.0,160.0 Q63.0,155.1 58.0,158.0Z" fill="url(#cellD)" opacity="1"/><path d="M70.0,150.0 Q72.6,156.5 78.0,152.0 Q75.0,147.1 70.0,150.0Z" fill="url(#cellD)" opacity="1"/><path d="M66.0,186.0 Q67.0,194.1 74.0,190.0 Q71.4,185.1 66.0,186.0Z" fill="url(#cellD)" opacity="1"/><path d="M100.0,201.0 Q103.7,209.9 112.0,205.0 Q107.5,198.5 100.0,201.0Z" fill="url(#cellD)" opacity="1"/><path d="M130.0,205.0 Q133.3,212.3 140.0,208.0 Q136.1,202.7 130.0,205.0Z" fill="url(#cellD)" opacity="1"/><path d="M125.0,176.0 Q134.4,181.3 140.0,172.0 Q131.4,169.7 125.0,176.0Z" fill="url(#cellD)" opacity="1"/><path d="M44.0,170.0 Q47.4,175.3 52.0,171.0 Q48.4,167.3 44.0,170.0Z" fill="url(#cellD)" opacity="1"/><g transform="translate(228.5,142.5) rotate(-30)"><ellipse rx="24" ry="18.5" fill="#c84242"/><ellipse cx="-0.7" cy="-0.9" rx="20.6" ry="15.2" fill="#e27672"/><ellipse cx="-1.2" cy="-1.9" rx="12.0" ry="7.8" fill="#cf5252"/></g><g transform="translate(248,171) rotate(10)"><ellipse rx="21" ry="16" fill="#c84242"/><ellipse cx="-0.6" cy="-0.8" rx="18.1" ry="13.1" fill="#e27672"/><ellipse cx="-1.1" cy="-1.6" rx="10.5" ry="6.7" fill="#cf5252"/></g><g transform="translate(186,212) rotate(-55)"><ellipse rx="13" ry="10" fill="#c84242"/><ellipse cx="-0.4" cy="-0.5" rx="11.2" ry="8.2" fill="#e27672"/><ellipse cx="-0.7" cy="-1.0" rx="6.5" ry="4.2" fill="#cf5252"/></g><g transform="translate(83.4,148.4) rotate(-10)"><ellipse rx="8" ry="4.5" fill="#c84242"/><ellipse cx="-0.2" cy="-0.2" rx="6.9" ry="3.7" fill="#e27672"/><ellipse cx="-0.4" cy="-0.5" rx="4.0" ry="1.9" fill="#cf5252"/></g><g transform="translate(85,155.5) rotate(0)"><ellipse rx="5" ry="3" fill="#c84242"/><ellipse cx="-0.1" cy="-0.2" rx="4.3" ry="2.5" fill="#e27672"/><ellipse cx="-0.2" cy="-0.3" rx="2.5" ry="1.3" fill="#cf5252"/></g><g transform="translate(62.7,151.8) rotate(-10)"><ellipse rx="4.5" ry="3" fill="#c84242"/><ellipse cx="-0.1" cy="-0.2" rx="3.9" ry="2.5" fill="#e27672"/><ellipse cx="-0.2" cy="-0.3" rx="2.2" ry="1.3" fill="#cf5252"/></g><g transform="translate(66,157) rotate(0)"><ellipse rx="3.5" ry="2.5" fill="#c84242"/><ellipse cx="-0.1" cy="-0.1" rx="3.0" ry="2.0" fill="#e27672"/><ellipse cx="-0.2" cy="-0.2" rx="1.8" ry="1.1" fill="#cf5252"/></g><g transform="translate(51.4,152.7) rotate(0)"><ellipse rx="2.2" ry="1.8" fill="#c84242"/><ellipse cx="-0.1" cy="-0.1" rx="1.9" ry="1.5" fill="#e27672"/><ellipse cx="-0.1" cy="-0.2" rx="1.1" ry="0.8" fill="#cf5252"/></g><g transform="translate(41.9,156) rotate(0)"><ellipse rx="2.2" ry="1.8" fill="#c84242"/><ellipse cx="-0.1" cy="-0.1" rx="1.9" ry="1.5" fill="#e27672"/><ellipse cx="-0.1" cy="-0.2" rx="1.1" ry="0.8" fill="#cf5252"/></g><g transform="translate(48.8,158.7) rotate(0)"><ellipse rx="1.8" ry="1.6" fill="#c84242"/><ellipse cx="-0.1" cy="-0.1" rx="1.5" ry="1.3" fill="#e27672"/><ellipse cx="-0.1" cy="-0.2" rx="0.9" ry="0.7" fill="#cf5252"/></g><g transform="translate(37.6,148.4) rotate(0)"><ellipse rx="2.6" ry="1.8" fill="#c84242"/><ellipse cx="-0.1" cy="-0.1" rx="2.2" ry="1.5" fill="#e27672"/><ellipse cx="-0.1" cy="-0.2" rx="1.3" ry="0.8" fill="#cf5252"/></g><g transform="translate(44.5,149.2) rotate(0)"><ellipse rx="2.2" ry="1.7" fill="#c84242"/><ellipse cx="-0.1" cy="-0.1" rx="1.9" ry="1.4" fill="#e27672"/><ellipse cx="-0.1" cy="-0.2" rx="1.1" ry="0.7" fill="#cf5252"/></g><g transform="translate(37.6,142.3) rotate(0)"><ellipse rx="2.2" ry="1.7" fill="#c84242"/><ellipse cx="-0.1" cy="-0.1" rx="1.9" ry="1.4" fill="#e27672"/><ellipse cx="-0.1" cy="-0.2" rx="1.1" ry="0.7" fill="#cf5252"/></g><g transform="translate(24.6,144.9) rotate(0)"><ellipse rx="2.2" ry="1.7" fill="#c84242"/><ellipse cx="-0.1" cy="-0.1" rx="1.9" ry="1.4" fill="#e27672"/><ellipse cx="-0.1" cy="-0.2" rx="1.1" ry="0.7" fill="#cf5252"/></g><g transform="translate(26.3,132.8) rotate(0)"><ellipse rx="2.6" ry="1.7" fill="#c84242"/><ellipse cx="-0.1" cy="-0.1" rx="2.2" ry="1.4" fill="#e27672"/><ellipse cx="-0.1" cy="-0.2" rx="1.3" ry="0.7" fill="#cf5252"/></g><g transform="translate(19.4,128.5) rotate(0)"><ellipse rx="2.2" ry="1.7" fill="#c84242"/><ellipse cx="-0.1" cy="-0.1" rx="1.9" ry="1.4" fill="#e27672"/><ellipse cx="-0.1" cy="-0.2" rx="1.1" ry="0.7" fill="#cf5252"/></g><g transform="translate(37.6,134.5) rotate(0)"><ellipse rx="1.8" ry="1.6" fill="#c84242"/><ellipse cx="-0.1" cy="-0.1" rx="1.5" ry="1.3" fill="#e27672"/><ellipse cx="-0.1" cy="-0.2" rx="0.9" ry="0.7" fill="#cf5252"/></g><g transform="translate(55.7,164) rotate(0)"><ellipse rx="3.2" ry="2.6" fill="#c84242"/><ellipse cx="-0.1" cy="-0.1" rx="2.8" ry="2.1" fill="#e27672"/><ellipse cx="-0.2" cy="-0.3" rx="1.6" ry="1.1" fill="#cf5252"/></g><g transform="translate(67.8,166.5) rotate(0)"><ellipse rx="2.6" ry="2.2" fill="#c84242"/><ellipse cx="-0.1" cy="-0.1" rx="2.2" ry="1.8" fill="#e27672"/><ellipse cx="-0.1" cy="-0.2" rx="1.3" ry="0.9" fill="#cf5252"/></g><g transform="translate(107.3,172.8) rotate(0)"><ellipse rx="4.5" ry="3.5" fill="#c84242"/><ellipse cx="-0.1" cy="-0.2" rx="3.9" ry="2.9" fill="#e27672"/><ellipse cx="-0.2" cy="-0.4" rx="2.2" ry="1.5" fill="#cf5252"/></g><g transform="translate(150.6,204.8) rotate(-5)"><ellipse rx="10" ry="6" fill="#c84242"/><ellipse cx="-0.3" cy="-0.3" rx="8.6" ry="4.9" fill="#e27672"/><ellipse cx="-0.5" cy="-0.6" rx="5.0" ry="2.5" fill="#cf5252"/></g><g transform="translate(232,252.7) rotate(0)"><ellipse rx="4.6" ry="2.8" fill="#c84242"/><ellipse cx="-0.1" cy="-0.1" rx="4.0" ry="2.3" fill="#e27672"/><ellipse cx="-0.2" cy="-0.3" rx="2.3" ry="1.2" fill="#cf5252"/></g><g transform="translate(256.5,267.3) rotate(-10)"><ellipse rx="6" ry="3.6" fill="#c84242"/><ellipse cx="-0.2" cy="-0.2" rx="5.2" ry="3.0" fill="#e27672"/><ellipse cx="-0.3" cy="-0.4" rx="3.0" ry="1.5" fill="#cf5252"/></g><g transform="translate(226.5,262.7) rotate(0)"><ellipse rx="4" ry="3" fill="#c84242"/><ellipse cx="-0.1" cy="-0.2" rx="3.4" ry="2.5" fill="#e27672"/><ellipse cx="-0.2" cy="-0.3" rx="2.0" ry="1.3" fill="#cf5252"/></g><g transform="translate(30,138) rotate(0)"><ellipse rx="1.8" ry="1.5" fill="#c84242"/><ellipse cx="-0.1" cy="-0.1" rx="1.5" ry="1.2" fill="#e27672"/><ellipse cx="-0.1" cy="-0.2" rx="0.9" ry="0.6" fill="#cf5252"/></g><g transform="translate(14,134) rotate(0)"><ellipse rx="1.6" ry="1.4" fill="#c84242"/><ellipse cx="-0.0" cy="-0.1" rx="1.4" ry="1.1" fill="#e27672"/><ellipse cx="-0.1" cy="-0.1" rx="0.8" ry="0.6" fill="#cf5252"/></g></g>
<text transform="translate(276.27,47.2) scale(0.84,1)" font-weight="bold" font-size="26" fill="#0a0a0a" stroke="#0a0a0a" stroke-width="0.35">B</text><line x1="347.8" y1="330.4" x2="351.6" y2="330.4" stroke="#444" stroke-width="1.1"/><text x="344.9" y="334.2" text-anchor="end" font-size="11" fill="#222">0</text><line x1="349.3" y1="314.2" x2="351.6" y2="314.2" stroke="#555" stroke-width="0.9"/><line x1="347.8" y1="298.0" x2="351.6" y2="298.0" stroke="#444" stroke-width="1.1"/><text x="344.9" y="301.9" text-anchor="end" font-size="11" fill="#222">5000</text><line x1="349.3" y1="281.9" x2="351.6" y2="281.9" stroke="#555" stroke-width="0.9"/><line x1="347.8" y1="265.7" x2="351.6" y2="265.7" stroke="#444" stroke-width="1.1"/><text x="344.9" y="269.5" text-anchor="end" font-size="11" fill="#222">10000</text><line x1="349.3" y1="249.5" x2="351.6" y2="249.5" stroke="#555" stroke-width="0.9"/><line x1="347.8" y1="233.3" x2="351.6" y2="233.3" stroke="#444" stroke-width="1.1"/><text x="344.9" y="237.2" text-anchor="end" font-size="11" fill="#222">15000</text><line x1="349.3" y1="217.2" x2="351.6" y2="217.2" stroke="#555" stroke-width="0.9"/><line x1="347.8" y1="201.0" x2="351.6" y2="201.0" stroke="#444" stroke-width="1.1"/><text x="344.9" y="204.8" text-anchor="end" font-size="11" fill="#222">20000</text><line x1="349.3" y1="184.8" x2="351.6" y2="184.8" stroke="#555" stroke-width="0.9"/><line x1="347.8" y1="168.6" x2="351.6" y2="168.6" stroke="#444" stroke-width="1.1"/><text x="344.9" y="172.5" text-anchor="end" font-size="11" fill="#222">25000</text><line x1="349.3" y1="152.4" x2="351.6" y2="152.4" stroke="#555" stroke-width="0.9"/><line x1="347.8" y1="136.3" x2="351.6" y2="136.3" stroke="#444" stroke-width="1.1"/><text x="344.9" y="140.1" text-anchor="end" font-size="11" fill="#222">30000</text><line x1="349.3" y1="120.1" x2="351.6" y2="120.1" stroke="#555" stroke-width="0.9"/><line x1="347.8" y1="103.9" x2="351.6" y2="103.9" stroke="#444" stroke-width="1.1"/><text x="344.9" y="107.8" text-anchor="end" font-size="11" fill="#222">35000</text><line x1="349.3" y1="87.7" x2="351.6" y2="87.7" stroke="#555" stroke-width="0.9"/><line x1="347.8" y1="71.6" x2="351.6" y2="71.6" stroke="#444" stroke-width="1.1"/><text x="344.9" y="75.4" text-anchor="end" font-size="11" fill="#222">40000</text><line x1="349.3" y1="55.4" x2="351.6" y2="55.4" stroke="#555" stroke-width="0.9"/><line x1="347.8" y1="39.2" x2="351.6" y2="39.2" stroke="#444" stroke-width="1.1"/><text x="344.9" y="43.1" text-anchor="end" font-size="11" fill="#222">45000</text><line x1="388.7" y1="342.9" x2="388.7" y2="346.5" stroke="#444" stroke-width="1.1"/><line x1="463.1" y1="342.9" x2="463.1" y2="346.5" stroke="#444" stroke-width="1.1"/><text x="388.3" y="361.6" text-anchor="middle" font-size="15.2" fill="#111">Normoxia</text><text x="462.70000000000005" y="361.6" text-anchor="middle" font-size="15.1" fill="#111">Hypoxia</text><text transform="translate(307.2,303.6) rotate(-90)" font-size="21" fill="#111">Number of Adhered RBCs</text><text x="352.7" y="43.2" font-size="23.5" fill="#111">LN</text><line x1="388.7" y1="322.0" x2="463.1" y2="303.9" stroke="#111" stroke-width="0.95"/><line x1="388.7" y1="325.2" x2="463.1" y2="311.6" stroke="#111" stroke-width="0.95"/><line x1="388.7" y1="328.5" x2="463.1" y2="313.6" stroke="#111" stroke-width="0.95"/><line x1="388.7" y1="320.0" x2="463.1" y2="315.5" stroke="#111" stroke-width="0.95"/><line x1="388.7" y1="327.2" x2="463.1" y2="317.5" stroke="#111" stroke-width="0.95"/><line x1="388.7" y1="329.1" x2="463.1" y2="319.4" stroke="#111" stroke-width="0.95"/><line x1="388.7" y1="326.5" x2="463.1" y2="321.3" stroke="#111" stroke-width="0.95"/><line x1="388.7" y1="329.8" x2="463.1" y2="322.6" stroke="#111" stroke-width="0.95"/><line x1="388.7" y1="327.8" x2="463.1" y2="323.9" stroke="#111" stroke-width="0.95"/><line x1="388.7" y1="330.1" x2="463.1" y2="325.2" stroke="#111" stroke-width="0.95"/><line x1="388.7" y1="328.8" x2="463.1" y2="326.5" stroke="#111" stroke-width="0.95"/><line x1="388.7" y1="330.2" x2="463.1" y2="327.8" stroke="#111" stroke-width="0.95"/><line x1="388.7" y1="329.4" x2="463.1" y2="328.8" stroke="#111" stroke-width="0.95"/><line x1="388.7" y1="330.3" x2="463.1" y2="329.8" stroke="#111" stroke-width="0.95"/><line x1="388.7" y1="325.9" x2="463.1" y2="329.4" stroke="#111" stroke-width="0.95"/><line x1="388.7" y1="328.1" x2="463.1" y2="330.1" stroke="#111" stroke-width="0.95"/><line x1="388.7" y1="330.4" x2="463.1" y2="330.4" stroke="#111" stroke-width="0.95"/><line x1="388.7" y1="329.8" x2="463.1" y2="330.2" stroke="#111" stroke-width="0.95"/><line x1="388.7" y1="309.4" x2="463.1" y2="303.9" stroke="#111" stroke-width="0.95"/><line x1="388.7" y1="300.8" x2="463.1" y2="68.3" stroke="#d83c46" stroke-width="1.5" stroke-dasharray="4.6,3.7"/><line x1="388.7" y1="315.9" x2="463.1" y2="142.7" stroke="#d83c46" stroke-width="1.5" stroke-dasharray="4.6,3.7"/><line x1="388.7" y1="309.4" x2="463.1" y2="212.0" stroke="#d83c46" stroke-width="1.5" stroke-dasharray="4.6,3.7"/><line x1="388.7" y1="310.0" x2="463.1" y2="241.7" stroke="#d83c46" stroke-width="1.5" stroke-dasharray="4.6,3.7"/><line x1="388.7" y1="301.6" x2="463.1" y2="263.7" stroke="#d83c46" stroke-width="1.5" stroke-dasharray="4.6,3.7"/><line x1="388.7" y1="318.8" x2="463.1" y2="276.0" stroke="#d83c46" stroke-width="1.5" stroke-dasharray="4.6,3.7"/><line x1="388.7" y1="321.3" x2="463.1" y2="285.8" stroke="#d83c46" stroke-width="1.5" stroke-dasharray="4.6,3.7"/><line x1="388.7" y1="323.3" x2="463.1" y2="287.7" stroke="#d83c46" stroke-width="1.5" stroke-dasharray="4.6,3.7"/><line x1="388.7" y1="320.0" x2="463.1" y2="289.0" stroke="#d83c46" stroke-width="1.5" stroke-dasharray="4.6,3.7"/><line x1="388.7" y1="324.6" x2="463.1" y2="285.1" stroke="#d83c46" stroke-width="1.5" stroke-dasharray="4.6,3.7"/><circle cx="388.7" cy="322.0" r="3.3" fill="#111"/><circle cx="463.1" cy="303.9" r="3.3" fill="#111"/><circle cx="388.7" cy="325.2" r="3.3" fill="#111"/><circle cx="463.1" cy="311.6" r="3.3" fill="#111"/><circle cx="388.7" cy="328.5" r="3.3" fill="#111"/><circle cx="463.1" cy="313.6" r="3.3" fill="#111"/><circle cx="388.7" cy="320.0" r="3.3" fill="#111"/><circle cx="463.1" cy="315.5" r="3.3" fill="#111"/><circle cx="388.7" cy="327.2" r="3.3" fill="#111"/><circle cx="463.1" cy="317.5" r="3.3" fill="#111"/><circle cx="388.7" cy="329.1" r="3.3" fill="#111"/><circle cx="463.1" cy="319.4" r="3.3" fill="#111"/><circle cx="388.7" cy="326.5" r="3.3" fill="#111"/><circle cx="463.1" cy="321.3" r="3.3" fill="#111"/><circle cx="388.7" cy="329.8" r="3.3" fill="#111"/><circle cx="463.1" cy="322.6" r="3.3" fill="#111"/><circle cx="388.7" cy="327.8" r="3.3" fill="#111"/><circle cx="463.1" cy="323.9" r="3.3" fill="#111"/><circle cx="388.7" cy="330.1" r="3.3" fill="#111"/><circle cx="463.1" cy="325.2" r="3.3" fill="#111"/><circle cx="388.7" cy="328.8" r="3.3" fill="#111"/><circle cx="463.1" cy="326.5" r="3.3" fill="#111"/><circle cx="388.7" cy="330.2" r="3.3" fill="#111"/><circle cx="463.1" cy="327.8" r="3.3" fill="#111"/><circle cx="388.7" cy="329.4" r="3.3" fill="#111"/><circle cx="463.1" cy="328.8" r="3.3" fill="#111"/><circle cx="388.7" cy="330.3" r="3.3" fill="#111"/><circle cx="463.1" cy="329.8" r="3.3" fill="#111"/><circle cx="388.7" cy="325.9" r="3.3" fill="#111"/><circle cx="463.1" cy="329.4" r="3.3" fill="#111"/><circle cx="388.7" cy="328.1" r="3.3" fill="#111"/><circle cx="463.1" cy="330.1" r="3.3" fill="#111"/><circle cx="388.7" cy="330.4" r="3.3" fill="#111"/><circle cx="463.1" cy="330.4" r="3.3" fill="#111"/><circle cx="388.7" cy="329.8" r="3.3" fill="#111"/><circle cx="463.1" cy="330.2" r="3.3" fill="#111"/><circle cx="463.1" cy="303.9" r="3.3" fill="#111"/><path d="M388.7,297.0 L392.5,300.8 L388.7,304.6 L384.9,300.8Z" fill="#e8343c"/><path d="M463.1,64.5 L466.90000000000003,68.3 L463.1,72.1 L459.3,68.3Z" fill="#e8343c"/><path d="M388.7,312.1 L392.5,315.9 L388.7,319.7 L384.9,315.9Z" fill="#e8343c"/><path d="M463.1,138.9 L466.90000000000003,142.7 L463.1,146.5 L459.3,142.7Z" fill="#e8343c"/><path d="M388.7,305.6 L392.5,309.4 L388.7,313.2 L384.9,309.4Z" fill="#e8343c"/><path d="M463.1,208.2 L466.90000000000003,212.0 L463.1,215.8 L459.3,212.0Z" fill="#e8343c"/><path d="M388.7,306.2 L392.5,310.0 L388.7,313.8 L384.9,310.0Z" fill="#e8343c"/><path d="M463.1,237.9 L466.90000000000003,241.7 L463.1,245.5 L459.3,241.7Z" fill="#e8343c"/><path d="M388.7,297.8 L392.5,301.6 L388.7,305.4 L384.9,301.6Z" fill="#e8343c"/><path d="M463.1,259.9 L466.90000000000003,263.7 L463.1,267.5 L459.3,263.7Z" fill="#e8343c"/><path d="M388.7,315.0 L392.5,318.8 L388.7,322.6 L384.9,318.8Z" fill="#e8343c"/><path d="M463.1,272.2 L466.90000000000003,276.0 L463.1,279.8 L459.3,276.0Z" fill="#e8343c"/><path d="M388.7,317.5 L392.5,321.3 L388.7,325.1 L384.9,321.3Z" fill="#e8343c"/><path d="M463.1,282.0 L466.90000000000003,285.8 L463.1,289.6 L459.3,285.8Z" fill="#e8343c"/><path d="M388.7,319.5 L392.5,323.3 L388.7,327.1 L384.9,323.3Z" fill="#e8343c"/><path d="M463.1,283.9 L466.90000000000003,287.7 L463.1,291.5 L459.3,287.7Z" fill="#e8343c"/><path d="M388.7,316.2 L392.5,320.0 L388.7,323.8 L384.9,320.0Z" fill="#e8343c"/><path d="M463.1,285.2 L466.90000000000003,289.0 L463.1,292.8 L459.3,289.0Z" fill="#e8343c"/><path d="M388.7,320.8 L392.5,324.6 L388.7,328.4 L384.9,324.6Z" fill="#e8343c"/><path d="M463.1,281.3 L466.90000000000003,285.1 L463.1,288.9 L459.3,285.1Z" fill="#e8343c"/><circle cx="388.7" cy="309.1" r="3.6" fill="#d81c24"/><line x1="427.7" y1="35.8" x2="451.2" y2="35.8" stroke="#d83c46" stroke-width="1.5" stroke-dasharray="3.8,3.2"/><path d="M439.5,31.4 L444.4,35.8 L439.5,40.2 L434.6,35.8Z" fill="#e8434a"/><text x="453.4" y="39.6" font-size="10.3" fill="#222">HR</text><line x1="427.7" y1="49.2" x2="450.8" y2="49.2" stroke="#222" stroke-width="1.1"/><circle cx="438.8" cy="49.2" r="3.9" fill="#555" stroke="#222" stroke-width="0.8"/><text x="453.4" y="51.9" font-size="10.3" fill="#222">Non-HR</text><rect x="351.6" y="21" width="148.39999999999998" height="321.9" fill="none" stroke="#444" stroke-width="1.2"/>
<text transform="translate(14.34,388.6) scale(0.87,1)" font-weight="bold" font-size="24.8" fill="#0a0a0a" stroke="#0a0a0a" stroke-width="0.35">C</text><line x1="47.5" y1="548.8" x2="50.3" y2="548.8" stroke="#555" stroke-width="0.9"/><text x="45.2" y="551.9" text-anchor="end" font-size="8.9" fill="#333">0</text><line x1="48.5" y1="530.3" x2="50.3" y2="530.3" stroke="#555" stroke-width="0.7"/><line x1="47.5" y1="511.9" x2="50.3" y2="511.9" stroke="#555" stroke-width="0.9"/><text x="45.2" y="515.0" text-anchor="end" font-size="8.9" fill="#333">300</text><line x1="48.5" y1="493.4" x2="50.3" y2="493.4" stroke="#555" stroke-width="0.7"/><line x1="47.5" y1="475.0" x2="50.3" y2="475.0" stroke="#555" stroke-width="0.9"/><text x="45.2" y="478.1" text-anchor="end" font-size="8.9" fill="#333">600</text><line x1="48.5" y1="456.5" x2="50.3" y2="456.5" stroke="#555" stroke-width="0.7"/><line x1="47.5" y1="438.1" x2="50.3" y2="438.1" stroke="#555" stroke-width="0.9"/><text x="45.2" y="441.2" text-anchor="end" font-size="8.9" fill="#333">900</text><line x1="48.5" y1="419.6" x2="50.3" y2="419.6" stroke="#555" stroke-width="0.7"/><line x1="47.5" y1="401.2" x2="50.3" y2="401.2" stroke="#555" stroke-width="0.9"/><text x="45.2" y="404.3" text-anchor="end" font-size="8.9" fill="#333">1200</text><text transform="translate(21.3,567.5) rotate(-90)" font-size="12.1" fill="#222">Absolute Retic Count (x10E9/L)</text><rect x="50.3" y="401.2" width="205.7" height="147.59999999999997" fill="none" stroke="#5a5a5a" stroke-width="1.1"/><path d="M70.6,472.5 L127.3,472.5 M99,472.5 L99,414.9 L206,414.9 L206,435 M178.5,435 L235.4,435" stroke="#555" stroke-width="1.1" fill="none"/><text x="125" y="410.8" font-size="9.1" fill="#333" style="stroke-width:0.1px">p&lt;0.0001</text><text x="234.1" y="416.2" font-size="16.4" fill="#111">LN</text><path d="M64,525.6 L97.7,525.6 M106,492 L139,492 M168,465.4 L201,465.4 M209,475.5 L242,475.5" stroke="#555" stroke-width="1.1" fill="none"/><circle cx="80.7" cy="511" r="2.2" fill="#4a4a4a" stroke="#151515" stroke-width="0.7"/><circle cx="79.5" cy="519.5" r="2.2" fill="#4a4a4a" stroke="#151515" stroke-width="0.7"/><circle cx="83" cy="521" r="2.2" fill="#4a4a4a" stroke="#151515" stroke-width="0.7"/><circle cx="78.5" cy="523" r="2.2" fill="#4a4a4a" stroke="#151515" stroke-width="0.7"/><circle cx="81.5" cy="525.5" r="2.2" fill="#4a4a4a" stroke="#151515" stroke-width="0.7"/><circle cx="77.8" cy="527.5" r="2.2" fill="#4a4a4a" stroke="#151515" stroke-width="0.7"/><circle cx="80.5" cy="529" r="2.2" fill="#4a4a4a" stroke="#151515" stroke-width="0.7"/><circle cx="82.5" cy="531.5" r="2.2" fill="#4a4a4a" stroke="#151515" stroke-width="0.7"/><circle cx="84.5" cy="534.5" r="2.2" fill="#4a4a4a" stroke="#151515" stroke-width="0.7"/><circle cx="79.5" cy="535.5" r="2.2" fill="#4a4a4a" stroke="#151515" stroke-width="0.7"/><circle cx="80.5" cy="538" r="2.2" fill="#4a4a4a" stroke="#151515" stroke-width="0.7"/><circle cx="180" cy="465.4" r="2.3" fill="#222"/><path d="M120.3,478.1 L123.2,481 L120.3,483.9 L117.39999999999999,481Z" fill="#e04850"/><path d="M125.8,500.1 L128.7,503 L125.8,505.9 L122.89999999999999,503Z" fill="#e04850"/><path d="M230.8,438.8 L233.70000000000002,441.7 L230.8,444.59999999999997 L227.9,441.7Z" fill="#e04850"/><path d="M224.6,446.1 L227.5,449 L224.6,451.9 L221.7,449Z" fill="#e04850"/><path d="M226,456.90000000000003 L228.9,459.8 L226,462.7 L223.1,459.8Z" fill="#e04850"/><path d="M224.2,471.1 L227.1,474 L224.2,476.9 L221.29999999999998,474Z" fill="#e04850"/><path d="M222,477.1 L224.9,480 L222,482.9 L219.1,480Z" fill="#e04850"/><path d="M226,497.6 L228.9,500.5 L226,503.4 L223.1,500.5Z" fill="#e04850"/><path d="M224.7,521.6 L227.6,524.5 L224.7,527.4 L221.79999999999998,524.5Z" fill="#e04850"/><path d="M50.5,548.8 L50.5,574.2 L256,574.2 L256,548.8 M50.5,558.8 L256,558.8 M101.9,548.8 L101.9,558.8 M154,548.8 L154,574.2 M205.3,548.8 L205.3,558.8" stroke="#555" stroke-width="0.9" fill="none"/><text x="76.2" y="556.8" text-anchor="middle" font-size="6.8" fill="#333" style="stroke-width:0.08px">Non-transfused</text><text x="127.6" y="556.8" text-anchor="middle" font-size="6.8" fill="#333" style="stroke-width:0.08px">Transfused</text><text x="179.6" y="556.8" text-anchor="middle" font-size="6.8" fill="#333" style="stroke-width:0.08px">Non-transfused</text><text x="230.3" y="556.8" text-anchor="middle" font-size="6.8" fill="#333" style="stroke-width:0.08px">Transfused</text><text x="102" y="569.8" text-anchor="middle" font-size="9.6" fill="#222">Non-responsive</text><text x="204.7" y="569.8" text-anchor="middle" font-size="9.6" fill="#222">Responsive</text>
<g style="--x:0" class="dp"><text transform="translate(275.98,388.1) scale(1.02,1)" font-weight="bold" font-size="25.5" fill="#0a0a0a" stroke="#0a0a0a" stroke-width="0.35">D</text><line x1="337.5" y1="557.3" x2="340.5" y2="557.3" stroke="#555" stroke-width="0.9"/><text x="335" y="560.7" text-anchor="end" font-size="9.6" fill="#333">0</text><line x1="337.5" y1="536.3" x2="340.5" y2="536.3" stroke="#555" stroke-width="0.9"/><text x="335" y="539.7" text-anchor="end" font-size="9.6" fill="#333">5000</text><line x1="337.5" y1="515.2" x2="340.5" y2="515.2" stroke="#555" stroke-width="0.9"/><text x="335" y="518.6" text-anchor="end" font-size="9.6" fill="#333">10000</text><line x1="337.5" y1="494.2" x2="340.5" y2="494.2" stroke="#555" stroke-width="0.9"/><text x="335" y="497.6" text-anchor="end" font-size="9.6" fill="#333">15000</text><line x1="337.5" y1="473.1" x2="340.5" y2="473.1" stroke="#555" stroke-width="0.9"/><text x="335" y="476.5" text-anchor="end" font-size="9.6" fill="#333">20000</text><line x1="337.5" y1="452.1" x2="340.5" y2="452.1" stroke="#555" stroke-width="0.9"/><text x="335" y="455.5" text-anchor="end" font-size="9.6" fill="#333">25000</text><line x1="337.5" y1="431.1" x2="340.5" y2="431.1" stroke="#555" stroke-width="0.9"/><text x="335" y="434.5" text-anchor="end" font-size="9.6" fill="#333">30000</text><line x1="337.5" y1="410.0" x2="340.5" y2="410.0" stroke="#555" stroke-width="0.9"/><text x="335" y="413.4" text-anchor="end" font-size="9.6" fill="#333">35000</text><line x1="350.2" y1="562" x2="350.2" y2="565" stroke="#555" stroke-width="0.9"/><text x="350.2" y="575" text-anchor="middle" font-size="9.6" fill="#333">20</text><line x1="369.3" y1="562" x2="369.3" y2="565" stroke="#555" stroke-width="0.9"/><text x="369.3" y="575" text-anchor="middle" font-size="9.6" fill="#333">25</text><line x1="388.4" y1="562" x2="388.4" y2="565" stroke="#555" stroke-width="0.9"/><text x="388.4" y="575" text-anchor="middle" font-size="9.6" fill="#333">30</text><line x1="407.5" y1="562" x2="407.5" y2="565" stroke="#555" stroke-width="0.9"/><text x="407.5" y="575" text-anchor="middle" font-size="9.6" fill="#333">35</text><line x1="426.6" y1="562" x2="426.6" y2="565" stroke="#555" stroke-width="0.9"/><text x="426.6" y="575" text-anchor="middle" font-size="9.6" fill="#333">40</text><line x1="445.7" y1="562" x2="445.7" y2="565" stroke="#555" stroke-width="0.9"/><text x="445.7" y="575" text-anchor="middle" font-size="9.6" fill="#333">45</text><line x1="464.8" y1="562" x2="464.8" y2="565" stroke="#555" stroke-width="0.9"/><text x="464.8" y="575" text-anchor="middle" font-size="9.6" fill="#333">50</text><line x1="483.9" y1="562" x2="483.9" y2="565" stroke="#555" stroke-width="0.9"/><text x="483.9" y="575" text-anchor="middle" font-size="9.6" fill="#333">55</text><line x1="503.0" y1="562" x2="503.0" y2="565" stroke="#555" stroke-width="0.9"/><text x="503.0" y="575" text-anchor="middle" font-size="9.6" fill="#333">60</text><text x="422.1" y="593" text-anchor="middle" font-size="12.9" fill="#222">Age (Years)</text><text transform="translate(288.8,480.5) rotate(-90) scale(0.935,1)" text-anchor="middle" font-size="12.5" fill="#222">Change of Adhered RBCs</text><text transform="translate(301.9,480.3) rotate(-90)" text-anchor="middle" font-size="11.5" fill="#222">due to Hypoxia</text><line x1="340.5" y1="537" x2="503" y2="537" stroke="#40407a" stroke-width="1.6" stroke-dasharray="5,4.95" stroke-dashoffset="3.9"/><line x1="407.4" y1="401.5" x2="407.4" y2="562" stroke="#444" stroke-width="1.2" stroke-dasharray="3.6,3.4" stroke-dashoffset="6.65"/><text x="501.6" y="531.6" text-anchor="end" font-size="9" fill="#333" style="stroke-width:0.15px">Responsive</text><text x="484.3" y="437.9" font-size="13.2" fill="#111">LN</text><rect x="422" y="401.8" width="81" height="23.2" fill="#fff" stroke="#999" stroke-width="0.8"/><circle cx="431.5" cy="409" r="1.9" fill="#444"/><text x="442.6" y="412.8" font-size="8.5" fill="#3a3a3a" style="stroke-width:0.1px">Non-HR</text><path d="M431.5,417.1 L434.0,419.6 L431.5,422.1 L429.0,419.6Z" fill="#e05058"/><text x="442.6" y="422.9" font-size="8.5" fill="#3a3a3a" style="stroke-width:0.1px">HR</text><circle cx="357.5" cy="557" r="2.3" fill="#3a3a3a"/><circle cx="365.5" cy="557.5" r="2.3" fill="#3a3a3a"/><circle cx="376.5" cy="554.5" r="2.3" fill="#3a3a3a"/><circle cx="380.5" cy="554.5" r="2.3" fill="#3a3a3a"/><circle cx="384.5" cy="555.5" r="2.3" fill="#3a3a3a"/><circle cx="388" cy="555.3" r="2.3" fill="#3a3a3a"/><circle cx="392.25" cy="549" r="2.3" fill="#3a3a3a"/><circle cx="403.25" cy="550.5" r="2.3" fill="#3a3a3a"/><circle cx="407.5" cy="542.5" r="2.3" fill="#3a3a3a"/><circle cx="407.5" cy="557" r="2.3" fill="#3a3a3a"/><circle cx="411" cy="557" r="2.3" fill="#3a3a3a"/><circle cx="423" cy="549" r="2.3" fill="#3a3a3a"/><circle cx="423" cy="557.5" r="2.3" fill="#3a3a3a"/><circle cx="438.3" cy="555" r="2.3" fill="#3a3a3a"/><circle cx="465.2" cy="556.5" r="2.3" fill="#3a3a3a"/><circle cx="472.5" cy="554.6" r="2.3" fill="#3a3a3a"/><circle cx="491.7" cy="550.2" r="2.3" fill="#3a3a3a"/><path d="M346.5,524.75 L349.25,527.5 L346.5,530.25 L343.75,527.5Z" fill="#d84a58"/><path d="M361.5,503.75 L364.25,506.5 L361.5,509.25 L358.75,506.5Z" fill="#d84a58"/><path d="M361.5,529.25 L364.25,532 L361.5,534.75 L358.75,532Z" fill="#d84a58"/><path d="M373,525.25 L375.75,528 L373,530.75 L370.25,528Z" fill="#d84a58"/><path d="M400,486.5 L402.75,489.25 L400,492.0 L397.25,489.25Z" fill="#d84a58"/><path d="M403.75,532.75 L406.5,535.5 L403.75,538.25 L401.0,535.5Z" fill="#d84a58"/><path d="M373,440.25 L375.75,443 L373,445.75 L370.25,443Z" fill="#d84a58"/><path d="M403.75,404.0 L406.5,406.75 L403.75,409.5 L401.0,406.75Z" fill="#d84a58"/><rect x="340.5" y="401.5" width="162.5" height="160.5" fill="none" stroke="#444" stroke-width="1.1"/></g>
</svg>
</body></html>
